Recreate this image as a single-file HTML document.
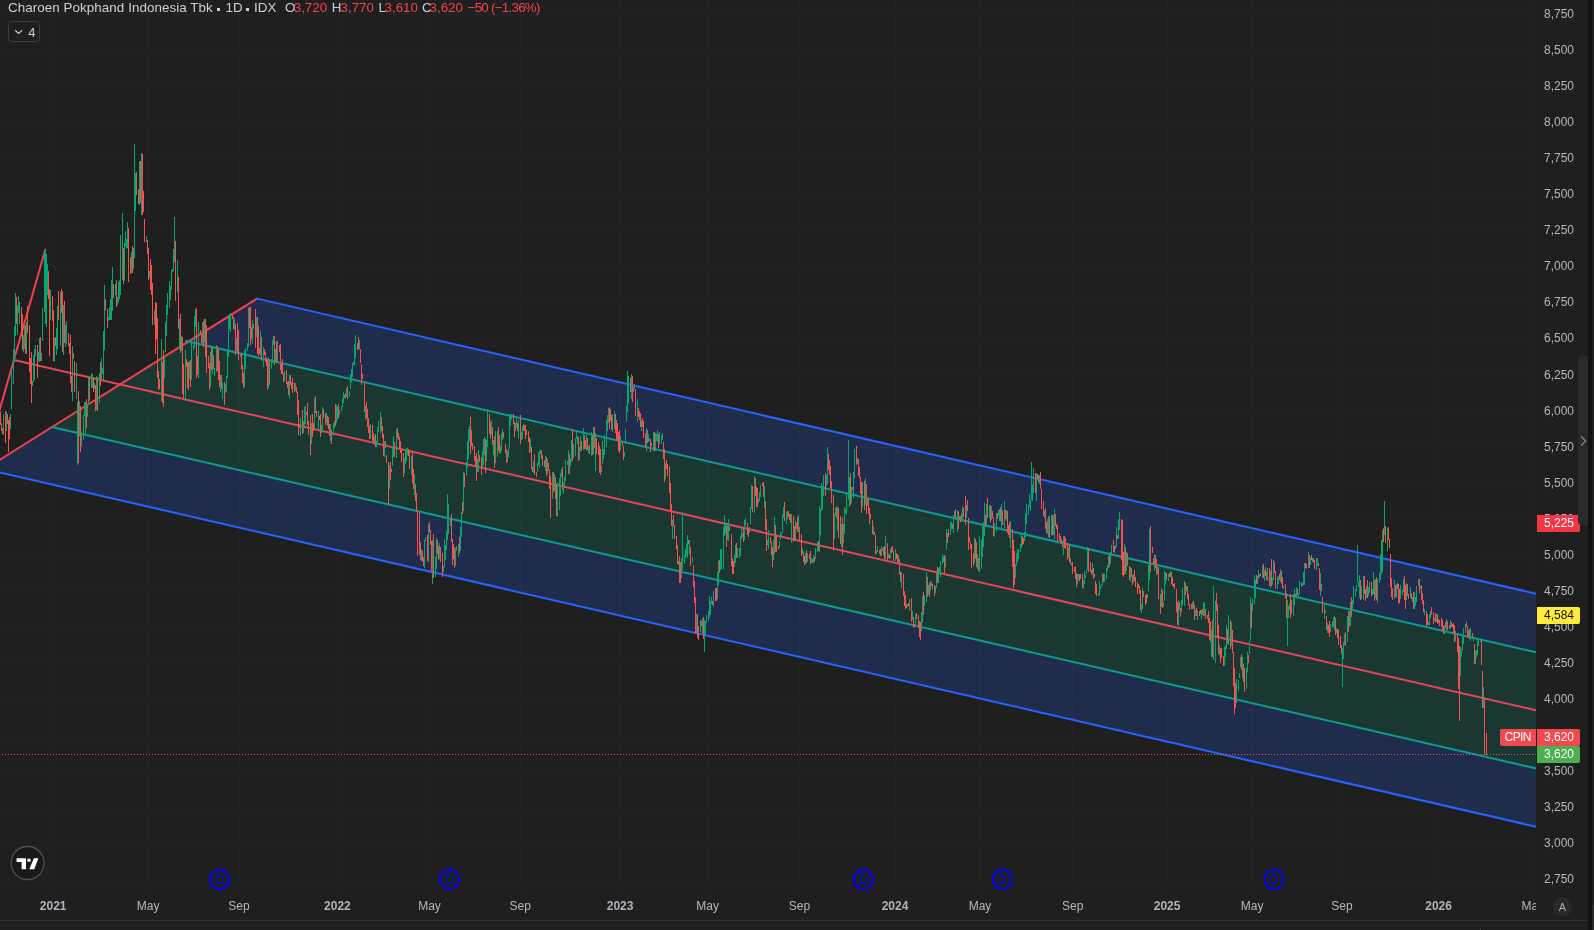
<!DOCTYPE html>
<html><head><meta charset="utf-8"><title>CPIN</title>
<style>
html,body{margin:0;padding:0;background:#1f1f1f;}
body{width:1594px;height:930px;overflow:hidden;position:relative;font-family:"Liberation Sans",sans-serif;color:#b4b7bf;}
#root{position:absolute;left:0;top:0;width:1594px;height:930px;overflow:hidden;will-change:transform;}
svg{position:absolute;left:0;top:0;}
.pl{position:absolute;left:1544px;width:40px;height:14px;line-height:14px;font-size:12px;color:#b4b7bf;white-space:nowrap;}
.tl{position:absolute;top:899px;width:60px;height:14px;line-height:14px;font-size:12px;text-align:center;color:#b4b7bf;white-space:nowrap;}
.tl.b{font-weight:bold;color:#b0b3ba;}
.tag{position:absolute;height:17px;line-height:16px;font-size:12px;color:#fff;border-radius:2px;white-space:nowrap;box-sizing:border-box;}
#legend{position:absolute;left:8px;top:0;height:15px;line-height:15px;font-size:13.4px;white-space:nowrap;color:#cdd0d6;}
#legend .r{color:#f0444e;}
#legend span{position:absolute;top:0;}
</style></head><body><div id="root">
<svg width="1594" height="930" viewBox="0 0 1594 930">
<defs><clipPath id="pane"><rect x="0" y="0" width="1536" height="892"/></clipPath></defs>
<g shape-rendering="crispEdges">
<rect x="0" y="14" width="1536" height="1" fill="#232323"/>
<rect x="0" y="50" width="1536" height="1" fill="#232323"/>
<rect x="0" y="86" width="1536" height="1" fill="#232323"/>
<rect x="0" y="122" width="1536" height="1" fill="#232323"/>
<rect x="0" y="158" width="1536" height="1" fill="#232323"/>
<rect x="0" y="194" width="1536" height="1" fill="#232323"/>
<rect x="0" y="230" width="1536" height="1" fill="#232323"/>
<rect x="0" y="266" width="1536" height="1" fill="#232323"/>
<rect x="0" y="303" width="1536" height="1" fill="#232323"/>
<rect x="0" y="339" width="1536" height="1" fill="#232323"/>
<rect x="0" y="375" width="1536" height="1" fill="#232323"/>
<rect x="0" y="411" width="1536" height="1" fill="#232323"/>
<rect x="0" y="447" width="1536" height="1" fill="#232323"/>
<rect x="0" y="483" width="1536" height="1" fill="#232323"/>
<rect x="0" y="519" width="1536" height="1" fill="#232323"/>
<rect x="0" y="555" width="1536" height="1" fill="#232323"/>
<rect x="0" y="591" width="1536" height="1" fill="#232323"/>
<rect x="0" y="627" width="1536" height="1" fill="#232323"/>
<rect x="0" y="663" width="1536" height="1" fill="#232323"/>
<rect x="0" y="700" width="1536" height="1" fill="#232323"/>
<rect x="0" y="736" width="1536" height="1" fill="#232323"/>
<rect x="0" y="772" width="1536" height="1" fill="#232323"/>
<rect x="0" y="808" width="1536" height="1" fill="#232323"/>
<rect x="0" y="844" width="1536" height="1" fill="#232323"/>
<rect x="0" y="880" width="1536" height="1" fill="#232323"/>
<rect x="54" y="0" width="1" height="892" fill="#232323"/>
<rect x="148" y="0" width="1" height="892" fill="#232323"/>
<rect x="239" y="0" width="1" height="892" fill="#232323"/>
<rect x="338" y="0" width="1" height="892" fill="#232323"/>
<rect x="429" y="0" width="1" height="892" fill="#232323"/>
<rect x="520" y="0" width="1" height="892" fill="#232323"/>
<rect x="620" y="0" width="1" height="892" fill="#232323"/>
<rect x="708" y="0" width="1" height="892" fill="#232323"/>
<rect x="799" y="0" width="1" height="892" fill="#232323"/>
<rect x="895" y="0" width="1" height="892" fill="#232323"/>
<rect x="980" y="0" width="1" height="892" fill="#232323"/>
<rect x="1072" y="0" width="1" height="892" fill="#232323"/>
<rect x="1167" y="0" width="1" height="892" fill="#232323"/>
<rect x="1252" y="0" width="1" height="892" fill="#232323"/>
<rect x="1342" y="0" width="1" height="892" fill="#232323"/>
<rect x="1438" y="0" width="1" height="892" fill="#232323"/>
<rect x="1533" y="0" width="1" height="892" fill="#232323"/>
</g>
<g clip-path="url(#pane)">

<polygon points="257.0,298.6 1536.0,593.7 1536.0,652.3 186.0,341.0" fill="#2962ff" fill-opacity="0.2"/>
<polygon points="186.0,341.0 1536.0,652.3 1536.0,768.4 51.7,427.0" fill="#089981" fill-opacity="0.2"/>
<polygon points="51.7,427.0 1536.0,768.4 1536.0,826.7 0.0,472.5 0.0,459.7" fill="#2962ff" fill-opacity="0.2"/>


<g fill="none" stroke-width="2" stroke-linecap="round">
<line x1="-17" y1="468.5" x2="45.3" y2="249.6" stroke="#ef3f50"/>
<line x1="-17" y1="470.3" x2="257" y2="298.6" stroke="#ef3f50"/>
<line x1="14" y1="360" x2="1536" y2="710.3" stroke="#e44858"/>
<line x1="186" y1="341" x2="1536" y2="652.3" stroke="#0c9d92"/>
<line x1="51.7" y1="427" x2="1536" y2="768.4" stroke="#0c9d92"/>
<line x1="257" y1="298.6" x2="1536" y2="593.7" stroke="#2962ff"/>
<line x1="-20" y1="467.9" x2="1536" y2="826.7" stroke="#2962ff"/>
</g>

<g shape-rendering="crispEdges">
<rect x="1486" y="733" width="1" height="22" fill="#f8504f"/>
<rect x="1484" y="698" width="1" height="57" fill="#f8504f"/>
<rect x="1483" y="687" width="1" height="21" fill="#06a66f"/>
<rect x="1482" y="671" width="1" height="37" fill="#f8504f"/>
<rect x="1481" y="641" width="1" height="24" fill="#f8504f"/>
<rect x="0" y="412" width="1" height="13" fill="#f8504f"/>
<rect x="1" y="423" width="1" height="8" fill="#f8504f"/>
<rect x="2" y="428" width="1" height="6" fill="#f8504f"/>
<rect x="3" y="414" width="1" height="21" fill="#06a66f"/>
<rect x="5" y="411" width="1" height="32" fill="#f8504f"/>
<rect x="6" y="412" width="1" height="19" fill="#06a66f"/>
<rect x="7" y="414" width="1" height="10" fill="#f8504f"/>
<rect x="8" y="420" width="1" height="32" fill="#f8504f"/>
<rect x="9" y="417" width="1" height="22" fill="#f8504f"/>
<rect x="10" y="414" width="1" height="15" fill="#06a66f"/>
<rect x="11" y="369" width="1" height="40" fill="#06a66f"/>
<rect x="13" y="349" width="1" height="35" fill="#06a66f"/>
<rect x="14" y="326" width="1" height="36" fill="#06a66f"/>
<rect x="15" y="293" width="1" height="43" fill="#06a66f"/>
<rect x="16" y="297" width="1" height="27" fill="#f8504f"/>
<rect x="17" y="305" width="1" height="30" fill="#06a66f"/>
<rect x="18" y="296" width="1" height="17" fill="#06a66f"/>
<rect x="19" y="302" width="1" height="22" fill="#06a66f"/>
<rect x="21" y="307" width="1" height="29" fill="#f8504f"/>
<rect x="22" y="314" width="1" height="36" fill="#f8504f"/>
<rect x="23" y="335" width="1" height="17" fill="#06a66f"/>
<rect x="24" y="324" width="1" height="25" fill="#06a66f"/>
<rect x="25" y="325" width="1" height="29" fill="#f8504f"/>
<rect x="26" y="322" width="1" height="32" fill="#06a66f"/>
<rect x="27" y="306" width="1" height="27" fill="#f8504f"/>
<rect x="29" y="325" width="1" height="47" fill="#f8504f"/>
<rect x="30" y="358" width="1" height="26" fill="#f8504f"/>
<rect x="31" y="352" width="1" height="51" fill="#f8504f"/>
<rect x="32" y="381" width="1" height="5" fill="#06a66f"/>
<rect x="33" y="355" width="1" height="27" fill="#06a66f"/>
<rect x="34" y="349" width="1" height="31" fill="#06a66f"/>
<rect x="35" y="345" width="1" height="11" fill="#06a66f"/>
<rect x="37" y="345" width="1" height="33" fill="#f8504f"/>
<rect x="38" y="352" width="1" height="9" fill="#06a66f"/>
<rect x="39" y="338" width="1" height="24" fill="#06a66f"/>
<rect x="40" y="337" width="1" height="24" fill="#f8504f"/>
<rect x="41" y="353" width="1" height="8" fill="#06a66f"/>
<rect x="42" y="308" width="1" height="33" fill="#06a66f"/>
<rect x="44" y="250" width="1" height="62" fill="#06a66f"/>
<rect x="45" y="250" width="1" height="74" fill="#06a66f"/>
<rect x="46" y="254" width="1" height="73" fill="#06a66f"/>
<rect x="47" y="264" width="1" height="31" fill="#06a66f"/>
<rect x="48" y="271" width="1" height="28" fill="#f8504f"/>
<rect x="49" y="289" width="1" height="67" fill="#f8504f"/>
<rect x="50" y="290" width="1" height="30" fill="#06a66f"/>
<rect x="52" y="296" width="1" height="25" fill="#f8504f"/>
<rect x="53" y="310" width="1" height="51" fill="#f8504f"/>
<rect x="54" y="338" width="1" height="24" fill="#06a66f"/>
<rect x="55" y="337" width="1" height="9" fill="#f8504f"/>
<rect x="56" y="328" width="1" height="27" fill="#06a66f"/>
<rect x="57" y="306" width="1" height="43" fill="#06a66f"/>
<rect x="58" y="291" width="1" height="29" fill="#f8504f"/>
<rect x="60" y="292" width="1" height="54" fill="#06a66f"/>
<rect x="61" y="289" width="1" height="24" fill="#f8504f"/>
<rect x="62" y="291" width="1" height="61" fill="#f8504f"/>
<rect x="63" y="305" width="1" height="50" fill="#06a66f"/>
<rect x="64" y="301" width="1" height="42" fill="#f8504f"/>
<rect x="65" y="325" width="1" height="22" fill="#06a66f"/>
<rect x="66" y="321" width="1" height="23" fill="#06a66f"/>
<rect x="68" y="333" width="1" height="13" fill="#f8504f"/>
<rect x="69" y="343" width="1" height="11" fill="#f8504f"/>
<rect x="70" y="335" width="1" height="48" fill="#f8504f"/>
<rect x="71" y="376" width="1" height="16" fill="#f8504f"/>
<rect x="72" y="346" width="1" height="55" fill="#06a66f"/>
<rect x="73" y="353" width="1" height="6" fill="#f8504f"/>
<rect x="74" y="361" width="1" height="31" fill="#f8504f"/>
<rect x="76" y="363" width="1" height="36" fill="#06a66f"/>
<rect x="77" y="402" width="1" height="63" fill="#06a66f"/>
<rect x="78" y="391" width="1" height="72" fill="#f8504f"/>
<rect x="79" y="401" width="1" height="35" fill="#06a66f"/>
<rect x="80" y="406" width="1" height="46" fill="#f8504f"/>
<rect x="81" y="432" width="1" height="14" fill="#06a66f"/>
<rect x="83" y="415" width="1" height="25" fill="#06a66f"/>
<rect x="84" y="402" width="1" height="14" fill="#06a66f"/>
<rect x="85" y="402" width="1" height="32" fill="#06a66f"/>
<rect x="86" y="399" width="1" height="29" fill="#f8504f"/>
<rect x="87" y="404" width="1" height="13" fill="#06a66f"/>
<rect x="88" y="376" width="1" height="29" fill="#06a66f"/>
<rect x="89" y="377" width="1" height="24" fill="#f8504f"/>
<rect x="91" y="373" width="1" height="15" fill="#06a66f"/>
<rect x="92" y="374" width="1" height="14" fill="#06a66f"/>
<rect x="93" y="379" width="1" height="13" fill="#f8504f"/>
<rect x="94" y="383" width="1" height="6" fill="#06a66f"/>
<rect x="95" y="385" width="1" height="26" fill="#f8504f"/>
<rect x="96" y="376" width="1" height="34" fill="#06a66f"/>
<rect x="97" y="377" width="1" height="34" fill="#f8504f"/>
<rect x="99" y="373" width="1" height="30" fill="#06a66f"/>
<rect x="100" y="362" width="1" height="24" fill="#f8504f"/>
<rect x="101" y="358" width="1" height="21" fill="#06a66f"/>
<rect x="102" y="368" width="1" height="6" fill="#06a66f"/>
<rect x="103" y="331" width="1" height="49" fill="#06a66f"/>
<rect x="104" y="285" width="1" height="65" fill="#06a66f"/>
<rect x="105" y="299" width="1" height="11" fill="#f8504f"/>
<rect x="107" y="309" width="1" height="19" fill="#f8504f"/>
<rect x="108" y="317" width="1" height="4" fill="#06a66f"/>
<rect x="109" y="307" width="1" height="13" fill="#06a66f"/>
<rect x="110" y="299" width="1" height="21" fill="#06a66f"/>
<rect x="111" y="280" width="1" height="40" fill="#06a66f"/>
<rect x="112" y="267" width="1" height="44" fill="#06a66f"/>
<rect x="113" y="284" width="1" height="14" fill="#f8504f"/>
<rect x="115" y="284" width="1" height="11" fill="#06a66f"/>
<rect x="116" y="280" width="1" height="27" fill="#f8504f"/>
<rect x="117" y="297" width="1" height="8" fill="#06a66f"/>
<rect x="118" y="282" width="1" height="20" fill="#06a66f"/>
<rect x="119" y="280" width="1" height="19" fill="#06a66f"/>
<rect x="120" y="235" width="1" height="60" fill="#06a66f"/>
<rect x="122" y="213" width="1" height="67" fill="#06a66f"/>
<rect x="123" y="248" width="1" height="36" fill="#f8504f"/>
<rect x="124" y="243" width="1" height="38" fill="#06a66f"/>
<rect x="125" y="231" width="1" height="15" fill="#06a66f"/>
<rect x="126" y="239" width="1" height="10" fill="#06a66f"/>
<rect x="127" y="222" width="1" height="26" fill="#06a66f"/>
<rect x="128" y="228" width="1" height="54" fill="#f8504f"/>
<rect x="130" y="257" width="1" height="17" fill="#f8504f"/>
<rect x="131" y="252" width="1" height="21" fill="#06a66f"/>
<rect x="132" y="246" width="1" height="27" fill="#f8504f"/>
<rect x="133" y="248" width="1" height="21" fill="#06a66f"/>
<rect x="134" y="144" width="1" height="114" fill="#06a66f"/>
<rect x="135" y="173" width="1" height="38" fill="#06a66f"/>
<rect x="136" y="172" width="1" height="23" fill="#f8504f"/>
<rect x="138" y="189" width="1" height="15" fill="#f8504f"/>
<rect x="139" y="161" width="1" height="44" fill="#06a66f"/>
<rect x="140" y="161" width="1" height="42" fill="#f8504f"/>
<rect x="141" y="153" width="1" height="62" fill="#06a66f"/>
<rect x="142" y="154" width="1" height="61" fill="#f8504f"/>
<rect x="143" y="191" width="1" height="21" fill="#f8504f"/>
<rect x="144" y="219" width="1" height="23" fill="#f8504f"/>
<rect x="146" y="236" width="1" height="6" fill="#06a66f"/>
<rect x="147" y="240" width="1" height="14" fill="#f8504f"/>
<rect x="148" y="248" width="1" height="32" fill="#f8504f"/>
<rect x="149" y="271" width="1" height="7" fill="#06a66f"/>
<rect x="150" y="259" width="1" height="31" fill="#f8504f"/>
<rect x="151" y="265" width="1" height="30" fill="#f8504f"/>
<rect x="152" y="283" width="1" height="42" fill="#f8504f"/>
<rect x="154" y="310" width="1" height="15" fill="#06a66f"/>
<rect x="155" y="302" width="1" height="52" fill="#f8504f"/>
<rect x="156" y="303" width="1" height="36" fill="#f8504f"/>
<rect x="157" y="318" width="1" height="60" fill="#f8504f"/>
<rect x="158" y="371" width="1" height="19" fill="#f8504f"/>
<rect x="159" y="379" width="1" height="10" fill="#f8504f"/>
<rect x="161" y="339" width="1" height="62" fill="#06a66f"/>
<rect x="162" y="362" width="1" height="41" fill="#f8504f"/>
<rect x="163" y="350" width="1" height="57" fill="#f8504f"/>
<rect x="164" y="357" width="1" height="21" fill="#06a66f"/>
<rect x="165" y="322" width="1" height="30" fill="#06a66f"/>
<rect x="166" y="305" width="1" height="31" fill="#06a66f"/>
<rect x="167" y="293" width="1" height="22" fill="#06a66f"/>
<rect x="169" y="281" width="1" height="27" fill="#06a66f"/>
<rect x="170" y="286" width="1" height="14" fill="#06a66f"/>
<rect x="171" y="270" width="1" height="20" fill="#06a66f"/>
<rect x="172" y="269" width="1" height="3" fill="#06a66f"/>
<rect x="173" y="249" width="1" height="22" fill="#06a66f"/>
<rect x="174" y="217" width="1" height="45" fill="#06a66f"/>
<rect x="175" y="241" width="1" height="60" fill="#f8504f"/>
<rect x="177" y="260" width="1" height="32" fill="#06a66f"/>
<rect x="178" y="277" width="1" height="52" fill="#f8504f"/>
<rect x="179" y="319" width="1" height="30" fill="#06a66f"/>
<rect x="180" y="314" width="1" height="39" fill="#f8504f"/>
<rect x="181" y="336" width="1" height="15" fill="#06a66f"/>
<rect x="182" y="337" width="1" height="57" fill="#f8504f"/>
<rect x="183" y="364" width="1" height="34" fill="#f8504f"/>
<rect x="185" y="350" width="1" height="51" fill="#06a66f"/>
<rect x="186" y="359" width="1" height="8" fill="#f8504f"/>
<rect x="187" y="362" width="1" height="26" fill="#f8504f"/>
<rect x="188" y="362" width="1" height="28" fill="#f8504f"/>
<rect x="189" y="361" width="1" height="18" fill="#06a66f"/>
<rect x="190" y="360" width="1" height="27" fill="#f8504f"/>
<rect x="191" y="339" width="1" height="41" fill="#06a66f"/>
<rect x="193" y="345" width="1" height="5" fill="#06a66f"/>
<rect x="194" y="316" width="1" height="32" fill="#06a66f"/>
<rect x="195" y="309" width="1" height="18" fill="#06a66f"/>
<rect x="196" y="308" width="1" height="70" fill="#f8504f"/>
<rect x="197" y="356" width="1" height="19" fill="#f8504f"/>
<rect x="198" y="322" width="1" height="56" fill="#06a66f"/>
<rect x="200" y="330" width="1" height="5" fill="#f8504f"/>
<rect x="201" y="334" width="1" height="9" fill="#f8504f"/>
<rect x="202" y="322" width="1" height="22" fill="#06a66f"/>
<rect x="203" y="321" width="1" height="26" fill="#f8504f"/>
<rect x="204" y="319" width="1" height="24" fill="#06a66f"/>
<rect x="205" y="319" width="1" height="38" fill="#f8504f"/>
<rect x="206" y="325" width="1" height="48" fill="#f8504f"/>
<rect x="208" y="356" width="1" height="12" fill="#f8504f"/>
<rect x="209" y="363" width="1" height="27" fill="#f8504f"/>
<rect x="210" y="352" width="1" height="35" fill="#06a66f"/>
<rect x="211" y="346" width="1" height="24" fill="#f8504f"/>
<rect x="212" y="346" width="1" height="28" fill="#06a66f"/>
<rect x="213" y="355" width="1" height="14" fill="#f8504f"/>
<rect x="214" y="368" width="1" height="8" fill="#06a66f"/>
<rect x="216" y="345" width="1" height="27" fill="#06a66f"/>
<rect x="217" y="346" width="1" height="25" fill="#f8504f"/>
<rect x="218" y="349" width="1" height="31" fill="#f8504f"/>
<rect x="219" y="361" width="1" height="26" fill="#f8504f"/>
<rect x="220" y="375" width="1" height="17" fill="#06a66f"/>
<rect x="221" y="375" width="1" height="14" fill="#f8504f"/>
<rect x="222" y="383" width="1" height="16" fill="#06a66f"/>
<rect x="224" y="382" width="1" height="23" fill="#f8504f"/>
<rect x="225" y="384" width="1" height="9" fill="#06a66f"/>
<rect x="226" y="376" width="1" height="16" fill="#06a66f"/>
<rect x="227" y="350" width="1" height="28" fill="#06a66f"/>
<rect x="228" y="315" width="1" height="42" fill="#06a66f"/>
<rect x="229" y="314" width="1" height="15" fill="#06a66f"/>
<rect x="230" y="313" width="1" height="19" fill="#06a66f"/>
<rect x="232" y="315" width="1" height="4" fill="#f8504f"/>
<rect x="233" y="317" width="1" height="12" fill="#f8504f"/>
<rect x="234" y="319" width="1" height="11" fill="#06a66f"/>
<rect x="235" y="324" width="1" height="31" fill="#f8504f"/>
<rect x="236" y="338" width="1" height="13" fill="#06a66f"/>
<rect x="237" y="323" width="1" height="30" fill="#f8504f"/>
<rect x="238" y="330" width="1" height="30" fill="#f8504f"/>
<rect x="240" y="353" width="1" height="4" fill="#06a66f"/>
<rect x="241" y="353" width="1" height="16" fill="#f8504f"/>
<rect x="242" y="365" width="1" height="18" fill="#f8504f"/>
<rect x="243" y="373" width="1" height="15" fill="#f8504f"/>
<rect x="244" y="350" width="1" height="37" fill="#06a66f"/>
<rect x="245" y="348" width="1" height="21" fill="#06a66f"/>
<rect x="247" y="343" width="1" height="8" fill="#06a66f"/>
<rect x="248" y="308" width="1" height="39" fill="#06a66f"/>
<rect x="249" y="307" width="1" height="21" fill="#f8504f"/>
<rect x="250" y="307" width="1" height="38" fill="#f8504f"/>
<rect x="251" y="327" width="1" height="12" fill="#f8504f"/>
<rect x="252" y="320" width="1" height="24" fill="#06a66f"/>
<rect x="253" y="324" width="1" height="5" fill="#06a66f"/>
<rect x="255" y="309" width="1" height="39" fill="#f8504f"/>
<rect x="256" y="317" width="1" height="20" fill="#06a66f"/>
<rect x="257" y="317" width="1" height="37" fill="#f8504f"/>
<rect x="258" y="326" width="1" height="30" fill="#f8504f"/>
<rect x="259" y="348" width="1" height="6" fill="#f8504f"/>
<rect x="260" y="331" width="1" height="25" fill="#06a66f"/>
<rect x="261" y="337" width="1" height="24" fill="#f8504f"/>
<rect x="263" y="347" width="1" height="20" fill="#06a66f"/>
<rect x="264" y="349" width="1" height="6" fill="#f8504f"/>
<rect x="265" y="352" width="1" height="10" fill="#f8504f"/>
<rect x="266" y="358" width="1" height="8" fill="#f8504f"/>
<rect x="267" y="360" width="1" height="30" fill="#f8504f"/>
<rect x="268" y="357" width="1" height="31" fill="#06a66f"/>
<rect x="269" y="359" width="1" height="26" fill="#f8504f"/>
<rect x="271" y="359" width="1" height="10" fill="#06a66f"/>
<rect x="272" y="340" width="1" height="23" fill="#06a66f"/>
<rect x="273" y="336" width="1" height="9" fill="#06a66f"/>
<rect x="274" y="336" width="1" height="29" fill="#f8504f"/>
<rect x="275" y="349" width="1" height="13" fill="#06a66f"/>
<rect x="276" y="341" width="1" height="21" fill="#f8504f"/>
<rect x="277" y="341" width="1" height="22" fill="#06a66f"/>
<rect x="279" y="345" width="1" height="7" fill="#f8504f"/>
<rect x="280" y="344" width="1" height="26" fill="#f8504f"/>
<rect x="281" y="364" width="1" height="10" fill="#f8504f"/>
<rect x="282" y="359" width="1" height="15" fill="#f8504f"/>
<rect x="283" y="373" width="1" height="9" fill="#f8504f"/>
<rect x="284" y="371" width="1" height="10" fill="#06a66f"/>
<rect x="286" y="370" width="1" height="14" fill="#f8504f"/>
<rect x="287" y="382" width="1" height="6" fill="#f8504f"/>
<rect x="288" y="381" width="1" height="14" fill="#f8504f"/>
<rect x="289" y="375" width="1" height="24" fill="#06a66f"/>
<rect x="290" y="375" width="1" height="10" fill="#f8504f"/>
<rect x="291" y="382" width="1" height="7" fill="#f8504f"/>
<rect x="292" y="378" width="1" height="15" fill="#f8504f"/>
<rect x="294" y="383" width="1" height="9" fill="#f8504f"/>
<rect x="295" y="383" width="1" height="8" fill="#06a66f"/>
<rect x="296" y="387" width="1" height="6" fill="#f8504f"/>
<rect x="297" y="392" width="1" height="23" fill="#f8504f"/>
<rect x="298" y="400" width="1" height="35" fill="#f8504f"/>
<rect x="299" y="424" width="1" height="4" fill="#f8504f"/>
<rect x="300" y="418" width="1" height="18" fill="#06a66f"/>
<rect x="302" y="410" width="1" height="24" fill="#f8504f"/>
<rect x="303" y="421" width="1" height="12" fill="#06a66f"/>
<rect x="304" y="407" width="1" height="20" fill="#06a66f"/>
<rect x="305" y="406" width="1" height="18" fill="#06a66f"/>
<rect x="306" y="412" width="1" height="3" fill="#f8504f"/>
<rect x="307" y="403" width="1" height="22" fill="#f8504f"/>
<rect x="308" y="421" width="1" height="14" fill="#f8504f"/>
<rect x="310" y="415" width="1" height="40" fill="#f8504f"/>
<rect x="311" y="423" width="1" height="21" fill="#06a66f"/>
<rect x="312" y="414" width="1" height="23" fill="#f8504f"/>
<rect x="313" y="423" width="1" height="8" fill="#f8504f"/>
<rect x="314" y="398" width="1" height="31" fill="#06a66f"/>
<rect x="315" y="396" width="1" height="17" fill="#f8504f"/>
<rect x="316" y="411" width="1" height="6" fill="#f8504f"/>
<rect x="318" y="411" width="1" height="18" fill="#06a66f"/>
<rect x="319" y="416" width="1" height="4" fill="#f8504f"/>
<rect x="320" y="414" width="1" height="23" fill="#f8504f"/>
<rect x="321" y="425" width="1" height="8" fill="#06a66f"/>
<rect x="322" y="407" width="1" height="25" fill="#06a66f"/>
<rect x="323" y="409" width="1" height="9" fill="#f8504f"/>
<rect x="325" y="413" width="1" height="12" fill="#f8504f"/>
<rect x="326" y="413" width="1" height="10" fill="#06a66f"/>
<rect x="327" y="416" width="1" height="10" fill="#f8504f"/>
<rect x="328" y="417" width="1" height="12" fill="#f8504f"/>
<rect x="329" y="424" width="1" height="12" fill="#f8504f"/>
<rect x="330" y="424" width="1" height="17" fill="#06a66f"/>
<rect x="331" y="430" width="1" height="14" fill="#f8504f"/>
<rect x="333" y="423" width="1" height="13" fill="#06a66f"/>
<rect x="334" y="421" width="1" height="7" fill="#06a66f"/>
<rect x="335" y="404" width="1" height="22" fill="#f8504f"/>
<rect x="336" y="405" width="1" height="18" fill="#06a66f"/>
<rect x="337" y="407" width="1" height="13" fill="#06a66f"/>
<rect x="338" y="404" width="1" height="14" fill="#f8504f"/>
<rect x="339" y="410" width="1" height="5" fill="#06a66f"/>
<rect x="341" y="406" width="1" height="5" fill="#06a66f"/>
<rect x="342" y="398" width="1" height="9" fill="#06a66f"/>
<rect x="343" y="392" width="1" height="11" fill="#06a66f"/>
<rect x="344" y="395" width="1" height="3" fill="#f8504f"/>
<rect x="345" y="393" width="1" height="6" fill="#06a66f"/>
<rect x="346" y="388" width="1" height="9" fill="#06a66f"/>
<rect x="347" y="386" width="1" height="13" fill="#f8504f"/>
<rect x="349" y="391" width="1" height="6" fill="#06a66f"/>
<rect x="350" y="374" width="1" height="15" fill="#06a66f"/>
<rect x="351" y="369" width="1" height="13" fill="#06a66f"/>
<rect x="352" y="363" width="1" height="14" fill="#06a66f"/>
<rect x="353" y="362" width="1" height="3" fill="#06a66f"/>
<rect x="354" y="344" width="1" height="21" fill="#06a66f"/>
<rect x="355" y="335" width="1" height="23" fill="#06a66f"/>
<rect x="357" y="343" width="1" height="7" fill="#f8504f"/>
<rect x="358" y="337" width="1" height="12" fill="#f8504f"/>
<rect x="359" y="340" width="1" height="10" fill="#06a66f"/>
<rect x="360" y="349" width="1" height="14" fill="#f8504f"/>
<rect x="361" y="364" width="1" height="21" fill="#f8504f"/>
<rect x="362" y="374" width="1" height="5" fill="#f8504f"/>
<rect x="364" y="382" width="1" height="30" fill="#f8504f"/>
<rect x="365" y="406" width="1" height="14" fill="#06a66f"/>
<rect x="366" y="402" width="1" height="16" fill="#f8504f"/>
<rect x="367" y="409" width="1" height="18" fill="#f8504f"/>
<rect x="368" y="418" width="1" height="15" fill="#f8504f"/>
<rect x="369" y="426" width="1" height="13" fill="#f8504f"/>
<rect x="370" y="424" width="1" height="15" fill="#06a66f"/>
<rect x="372" y="425" width="1" height="16" fill="#f8504f"/>
<rect x="373" y="433" width="1" height="11" fill="#f8504f"/>
<rect x="374" y="436" width="1" height="9" fill="#06a66f"/>
<rect x="375" y="434" width="1" height="13" fill="#f8504f"/>
<rect x="376" y="441" width="1" height="6" fill="#06a66f"/>
<rect x="377" y="427" width="1" height="18" fill="#06a66f"/>
<rect x="378" y="421" width="1" height="11" fill="#06a66f"/>
<rect x="380" y="412" width="1" height="21" fill="#06a66f"/>
<rect x="381" y="417" width="1" height="14" fill="#f8504f"/>
<rect x="382" y="426" width="1" height="12" fill="#f8504f"/>
<rect x="383" y="434" width="1" height="22" fill="#f8504f"/>
<rect x="384" y="441" width="1" height="16" fill="#06a66f"/>
<rect x="385" y="441" width="1" height="7" fill="#f8504f"/>
<rect x="386" y="455" width="1" height="8" fill="#f8504f"/>
<rect x="388" y="462" width="1" height="42" fill="#f8504f"/>
<rect x="389" y="465" width="1" height="24" fill="#06a66f"/>
<rect x="390" y="462" width="1" height="18" fill="#f8504f"/>
<rect x="391" y="469" width="1" height="3" fill="#f8504f"/>
<rect x="392" y="447" width="1" height="19" fill="#06a66f"/>
<rect x="393" y="436" width="1" height="21" fill="#06a66f"/>
<rect x="394" y="442" width="1" height="15" fill="#f8504f"/>
<rect x="396" y="429" width="1" height="29" fill="#06a66f"/>
<rect x="397" y="428" width="1" height="10" fill="#f8504f"/>
<rect x="398" y="433" width="1" height="7" fill="#f8504f"/>
<rect x="399" y="437" width="1" height="11" fill="#f8504f"/>
<rect x="400" y="441" width="1" height="12" fill="#f8504f"/>
<rect x="401" y="449" width="1" height="13" fill="#f8504f"/>
<rect x="403" y="453" width="1" height="24" fill="#f8504f"/>
<rect x="404" y="458" width="1" height="15" fill="#06a66f"/>
<rect x="405" y="449" width="1" height="15" fill="#06a66f"/>
<rect x="406" y="448" width="1" height="13" fill="#06a66f"/>
<rect x="407" y="448" width="1" height="7" fill="#06a66f"/>
<rect x="408" y="449" width="1" height="7" fill="#f8504f"/>
<rect x="409" y="451" width="1" height="18" fill="#f8504f"/>
<rect x="411" y="456" width="1" height="19" fill="#06a66f"/>
<rect x="412" y="451" width="1" height="32" fill="#f8504f"/>
<rect x="413" y="469" width="1" height="20" fill="#f8504f"/>
<rect x="414" y="474" width="1" height="21" fill="#06a66f"/>
<rect x="415" y="484" width="1" height="17" fill="#f8504f"/>
<rect x="416" y="493" width="1" height="18" fill="#f8504f"/>
<rect x="417" y="510" width="1" height="46" fill="#f8504f"/>
<rect x="419" y="513" width="1" height="42" fill="#f8504f"/>
<rect x="420" y="542" width="1" height="18" fill="#f8504f"/>
<rect x="421" y="549" width="1" height="13" fill="#06a66f"/>
<rect x="422" y="551" width="1" height="10" fill="#f8504f"/>
<rect x="423" y="557" width="1" height="9" fill="#f8504f"/>
<rect x="424" y="540" width="1" height="28" fill="#06a66f"/>
<rect x="425" y="537" width="1" height="4" fill="#06a66f"/>
<rect x="427" y="535" width="1" height="26" fill="#f8504f"/>
<rect x="428" y="524" width="1" height="38" fill="#06a66f"/>
<rect x="429" y="522" width="1" height="10" fill="#f8504f"/>
<rect x="430" y="530" width="1" height="15" fill="#f8504f"/>
<rect x="431" y="541" width="1" height="30" fill="#f8504f"/>
<rect x="432" y="540" width="1" height="44" fill="#06a66f"/>
<rect x="433" y="534" width="1" height="44" fill="#f8504f"/>
<rect x="435" y="557" width="1" height="20" fill="#06a66f"/>
<rect x="436" y="538" width="1" height="31" fill="#06a66f"/>
<rect x="437" y="540" width="1" height="14" fill="#f8504f"/>
<rect x="438" y="546" width="1" height="14" fill="#f8504f"/>
<rect x="439" y="543" width="1" height="16" fill="#06a66f"/>
<rect x="440" y="547" width="1" height="15" fill="#f8504f"/>
<rect x="442" y="553" width="1" height="24" fill="#f8504f"/>
<rect x="443" y="566" width="1" height="6" fill="#06a66f"/>
<rect x="444" y="539" width="1" height="28" fill="#06a66f"/>
<rect x="445" y="545" width="1" height="15" fill="#06a66f"/>
<rect x="446" y="531" width="1" height="19" fill="#06a66f"/>
<rect x="447" y="494" width="1" height="46" fill="#06a66f"/>
<rect x="448" y="504" width="1" height="30" fill="#06a66f"/>
<rect x="450" y="519" width="1" height="7" fill="#06a66f"/>
<rect x="451" y="514" width="1" height="28" fill="#f8504f"/>
<rect x="452" y="539" width="1" height="26" fill="#f8504f"/>
<rect x="453" y="544" width="1" height="15" fill="#f8504f"/>
<rect x="454" y="547" width="1" height="21" fill="#f8504f"/>
<rect x="455" y="548" width="1" height="18" fill="#06a66f"/>
<rect x="456" y="546" width="1" height="5" fill="#06a66f"/>
<rect x="458" y="544" width="1" height="13" fill="#06a66f"/>
<rect x="459" y="537" width="1" height="16" fill="#f8504f"/>
<rect x="460" y="527" width="1" height="24" fill="#06a66f"/>
<rect x="461" y="512" width="1" height="25" fill="#06a66f"/>
<rect x="462" y="502" width="1" height="12" fill="#f8504f"/>
<rect x="463" y="472" width="1" height="39" fill="#06a66f"/>
<rect x="464" y="473" width="1" height="14" fill="#f8504f"/>
<rect x="466" y="462" width="1" height="14" fill="#06a66f"/>
<rect x="467" y="441" width="1" height="27" fill="#06a66f"/>
<rect x="468" y="429" width="1" height="30" fill="#06a66f"/>
<rect x="469" y="426" width="1" height="15" fill="#06a66f"/>
<rect x="470" y="417" width="1" height="37" fill="#f8504f"/>
<rect x="471" y="430" width="1" height="16" fill="#f8504f"/>
<rect x="472" y="443" width="1" height="7" fill="#f8504f"/>
<rect x="474" y="446" width="1" height="15" fill="#f8504f"/>
<rect x="475" y="456" width="1" height="10" fill="#f8504f"/>
<rect x="476" y="453" width="1" height="28" fill="#f8504f"/>
<rect x="477" y="459" width="1" height="13" fill="#06a66f"/>
<rect x="478" y="450" width="1" height="22" fill="#06a66f"/>
<rect x="479" y="455" width="1" height="7" fill="#f8504f"/>
<rect x="481" y="457" width="1" height="18" fill="#f8504f"/>
<rect x="482" y="451" width="1" height="18" fill="#06a66f"/>
<rect x="483" y="439" width="1" height="26" fill="#06a66f"/>
<rect x="484" y="437" width="1" height="18" fill="#06a66f"/>
<rect x="485" y="439" width="1" height="34" fill="#f8504f"/>
<rect x="486" y="440" width="1" height="21" fill="#06a66f"/>
<rect x="487" y="409" width="1" height="38" fill="#06a66f"/>
<rect x="489" y="414" width="1" height="20" fill="#f8504f"/>
<rect x="490" y="422" width="1" height="17" fill="#f8504f"/>
<rect x="491" y="420" width="1" height="15" fill="#06a66f"/>
<rect x="492" y="427" width="1" height="18" fill="#f8504f"/>
<rect x="493" y="440" width="1" height="15" fill="#06a66f"/>
<rect x="494" y="436" width="1" height="32" fill="#f8504f"/>
<rect x="495" y="431" width="1" height="32" fill="#06a66f"/>
<rect x="497" y="431" width="1" height="26" fill="#06a66f"/>
<rect x="498" y="427" width="1" height="24" fill="#f8504f"/>
<rect x="499" y="435" width="1" height="18" fill="#f8504f"/>
<rect x="500" y="446" width="1" height="8" fill="#06a66f"/>
<rect x="501" y="433" width="1" height="18" fill="#06a66f"/>
<rect x="502" y="429" width="1" height="11" fill="#06a66f"/>
<rect x="503" y="432" width="1" height="6" fill="#f8504f"/>
<rect x="505" y="444" width="1" height="9" fill="#f8504f"/>
<rect x="506" y="449" width="1" height="14" fill="#f8504f"/>
<rect x="507" y="451" width="1" height="11" fill="#06a66f"/>
<rect x="508" y="448" width="1" height="9" fill="#06a66f"/>
<rect x="509" y="414" width="1" height="34" fill="#06a66f"/>
<rect x="510" y="417" width="1" height="9" fill="#06a66f"/>
<rect x="511" y="414" width="1" height="5" fill="#06a66f"/>
<rect x="513" y="414" width="1" height="10" fill="#f8504f"/>
<rect x="514" y="422" width="1" height="15" fill="#f8504f"/>
<rect x="515" y="423" width="1" height="8" fill="#06a66f"/>
<rect x="516" y="417" width="1" height="11" fill="#06a66f"/>
<rect x="517" y="423" width="1" height="8" fill="#f8504f"/>
<rect x="518" y="420" width="1" height="19" fill="#06a66f"/>
<rect x="520" y="415" width="1" height="29" fill="#f8504f"/>
<rect x="521" y="432" width="1" height="8" fill="#06a66f"/>
<rect x="522" y="426" width="1" height="13" fill="#06a66f"/>
<rect x="523" y="424" width="1" height="7" fill="#06a66f"/>
<rect x="524" y="425" width="1" height="6" fill="#f8504f"/>
<rect x="525" y="425" width="1" height="14" fill="#f8504f"/>
<rect x="526" y="430" width="1" height="5" fill="#f8504f"/>
<rect x="528" y="431" width="1" height="11" fill="#f8504f"/>
<rect x="529" y="437" width="1" height="16" fill="#f8504f"/>
<rect x="530" y="439" width="1" height="13" fill="#06a66f"/>
<rect x="531" y="447" width="1" height="22" fill="#f8504f"/>
<rect x="532" y="467" width="1" height="5" fill="#f8504f"/>
<rect x="533" y="461" width="1" height="12" fill="#06a66f"/>
<rect x="534" y="454" width="1" height="21" fill="#f8504f"/>
<rect x="536" y="472" width="1" height="5" fill="#f8504f"/>
<rect x="537" y="463" width="1" height="9" fill="#06a66f"/>
<rect x="538" y="452" width="1" height="13" fill="#06a66f"/>
<rect x="539" y="451" width="1" height="17" fill="#06a66f"/>
<rect x="540" y="450" width="1" height="4" fill="#06a66f"/>
<rect x="541" y="450" width="1" height="9" fill="#f8504f"/>
<rect x="542" y="455" width="1" height="11" fill="#f8504f"/>
<rect x="544" y="460" width="1" height="7" fill="#f8504f"/>
<rect x="545" y="456" width="1" height="15" fill="#06a66f"/>
<rect x="546" y="457" width="1" height="19" fill="#f8504f"/>
<rect x="547" y="459" width="1" height="15" fill="#06a66f"/>
<rect x="548" y="463" width="1" height="8" fill="#f8504f"/>
<rect x="549" y="470" width="1" height="19" fill="#f8504f"/>
<rect x="550" y="476" width="1" height="42" fill="#f8504f"/>
<rect x="552" y="472" width="1" height="27" fill="#06a66f"/>
<rect x="553" y="472" width="1" height="20" fill="#f8504f"/>
<rect x="554" y="474" width="1" height="17" fill="#06a66f"/>
<rect x="555" y="477" width="1" height="22" fill="#f8504f"/>
<rect x="556" y="484" width="1" height="32" fill="#f8504f"/>
<rect x="557" y="482" width="1" height="35" fill="#06a66f"/>
<rect x="559" y="478" width="1" height="32" fill="#06a66f"/>
<rect x="560" y="473" width="1" height="23" fill="#06a66f"/>
<rect x="561" y="469" width="1" height="8" fill="#06a66f"/>
<rect x="562" y="467" width="1" height="23" fill="#f8504f"/>
<rect x="563" y="482" width="1" height="12" fill="#06a66f"/>
<rect x="564" y="477" width="1" height="11" fill="#06a66f"/>
<rect x="565" y="460" width="1" height="21" fill="#06a66f"/>
<rect x="567" y="461" width="1" height="4" fill="#06a66f"/>
<rect x="568" y="450" width="1" height="24" fill="#06a66f"/>
<rect x="569" y="454" width="1" height="20" fill="#f8504f"/>
<rect x="570" y="459" width="1" height="7" fill="#06a66f"/>
<rect x="571" y="440" width="1" height="22" fill="#06a66f"/>
<rect x="572" y="429" width="1" height="32" fill="#f8504f"/>
<rect x="573" y="444" width="1" height="14" fill="#06a66f"/>
<rect x="575" y="438" width="1" height="18" fill="#06a66f"/>
<rect x="576" y="432" width="1" height="7" fill="#06a66f"/>
<rect x="577" y="436" width="1" height="8" fill="#06a66f"/>
<rect x="578" y="437" width="1" height="24" fill="#f8504f"/>
<rect x="579" y="447" width="1" height="13" fill="#06a66f"/>
<rect x="580" y="436" width="1" height="15" fill="#06a66f"/>
<rect x="581" y="441" width="1" height="10" fill="#f8504f"/>
<rect x="583" y="428" width="1" height="22" fill="#06a66f"/>
<rect x="584" y="435" width="1" height="14" fill="#f8504f"/>
<rect x="585" y="440" width="1" height="9" fill="#f8504f"/>
<rect x="586" y="435" width="1" height="16" fill="#06a66f"/>
<rect x="587" y="438" width="1" height="12" fill="#f8504f"/>
<rect x="588" y="446" width="1" height="7" fill="#06a66f"/>
<rect x="589" y="445" width="1" height="9" fill="#f8504f"/>
<rect x="591" y="432" width="1" height="24" fill="#06a66f"/>
<rect x="592" y="435" width="1" height="20" fill="#f8504f"/>
<rect x="593" y="427" width="1" height="27" fill="#06a66f"/>
<rect x="594" y="427" width="1" height="21" fill="#f8504f"/>
<rect x="595" y="433" width="1" height="38" fill="#06a66f"/>
<rect x="596" y="438" width="1" height="16" fill="#f8504f"/>
<rect x="598" y="442" width="1" height="13" fill="#f8504f"/>
<rect x="599" y="446" width="1" height="27" fill="#f8504f"/>
<rect x="600" y="449" width="1" height="26" fill="#f8504f"/>
<rect x="601" y="466" width="1" height="6" fill="#06a66f"/>
<rect x="602" y="441" width="1" height="23" fill="#06a66f"/>
<rect x="603" y="449" width="1" height="10" fill="#06a66f"/>
<rect x="604" y="435" width="1" height="20" fill="#06a66f"/>
<rect x="606" y="420" width="1" height="27" fill="#06a66f"/>
<rect x="607" y="415" width="1" height="16" fill="#06a66f"/>
<rect x="608" y="408" width="1" height="15" fill="#06a66f"/>
<rect x="609" y="407" width="1" height="22" fill="#f8504f"/>
<rect x="610" y="409" width="1" height="12" fill="#f8504f"/>
<rect x="611" y="415" width="1" height="15" fill="#f8504f"/>
<rect x="612" y="414" width="1" height="18" fill="#06a66f"/>
<rect x="614" y="411" width="1" height="18" fill="#06a66f"/>
<rect x="615" y="414" width="1" height="19" fill="#f8504f"/>
<rect x="616" y="420" width="1" height="20" fill="#f8504f"/>
<rect x="617" y="423" width="1" height="17" fill="#f8504f"/>
<rect x="618" y="432" width="1" height="19" fill="#f8504f"/>
<rect x="619" y="430" width="1" height="23" fill="#f8504f"/>
<rect x="620" y="436" width="1" height="14" fill="#06a66f"/>
<rect x="622" y="442" width="1" height="4" fill="#f8504f"/>
<rect x="623" y="446" width="1" height="14" fill="#f8504f"/>
<rect x="624" y="452" width="1" height="5" fill="#06a66f"/>
<rect x="625" y="429" width="1" height="15" fill="#06a66f"/>
<rect x="626" y="406" width="1" height="16" fill="#06a66f"/>
<rect x="627" y="371" width="1" height="41" fill="#06a66f"/>
<rect x="628" y="376" width="1" height="27" fill="#06a66f"/>
<rect x="630" y="378" width="1" height="14" fill="#f8504f"/>
<rect x="631" y="374" width="1" height="25" fill="#06a66f"/>
<rect x="632" y="376" width="1" height="26" fill="#f8504f"/>
<rect x="633" y="387" width="1" height="5" fill="#06a66f"/>
<rect x="634" y="384" width="1" height="5" fill="#06a66f"/>
<rect x="635" y="389" width="1" height="27" fill="#f8504f"/>
<rect x="637" y="399" width="1" height="23" fill="#06a66f"/>
<rect x="638" y="408" width="1" height="9" fill="#f8504f"/>
<rect x="639" y="411" width="1" height="9" fill="#f8504f"/>
<rect x="640" y="413" width="1" height="14" fill="#f8504f"/>
<rect x="641" y="420" width="1" height="11" fill="#06a66f"/>
<rect x="642" y="418" width="1" height="9" fill="#f8504f"/>
<rect x="643" y="421" width="1" height="17" fill="#f8504f"/>
<rect x="645" y="433" width="1" height="14" fill="#f8504f"/>
<rect x="646" y="428" width="1" height="23" fill="#06a66f"/>
<rect x="647" y="430" width="1" height="13" fill="#f8504f"/>
<rect x="648" y="434" width="1" height="8" fill="#06a66f"/>
<rect x="649" y="438" width="1" height="3" fill="#06a66f"/>
<rect x="650" y="439" width="1" height="13" fill="#f8504f"/>
<rect x="651" y="443" width="1" height="3" fill="#f8504f"/>
<rect x="653" y="432" width="1" height="19" fill="#06a66f"/>
<rect x="654" y="432" width="1" height="19" fill="#f8504f"/>
<rect x="655" y="433" width="1" height="18" fill="#06a66f"/>
<rect x="656" y="434" width="1" height="7" fill="#06a66f"/>
<rect x="657" y="430" width="1" height="12" fill="#06a66f"/>
<rect x="658" y="434" width="1" height="14" fill="#f8504f"/>
<rect x="659" y="432" width="1" height="12" fill="#06a66f"/>
<rect x="661" y="435" width="1" height="9" fill="#06a66f"/>
<rect x="662" y="433" width="1" height="7" fill="#06a66f"/>
<rect x="663" y="442" width="1" height="17" fill="#f8504f"/>
<rect x="664" y="449" width="1" height="33" fill="#f8504f"/>
<rect x="665" y="463" width="1" height="16" fill="#06a66f"/>
<rect x="666" y="460" width="1" height="9" fill="#f8504f"/>
<rect x="667" y="464" width="1" height="12" fill="#f8504f"/>
<rect x="669" y="466" width="1" height="27" fill="#f8504f"/>
<rect x="670" y="483" width="1" height="27" fill="#f8504f"/>
<rect x="671" y="504" width="1" height="22" fill="#f8504f"/>
<rect x="672" y="520" width="1" height="19" fill="#06a66f"/>
<rect x="673" y="515" width="1" height="11" fill="#f8504f"/>
<rect x="674" y="525" width="1" height="14" fill="#f8504f"/>
<rect x="676" y="536" width="1" height="13" fill="#f8504f"/>
<rect x="677" y="545" width="1" height="19" fill="#f8504f"/>
<rect x="678" y="561" width="1" height="4" fill="#06a66f"/>
<rect x="679" y="556" width="1" height="27" fill="#f8504f"/>
<rect x="680" y="562" width="1" height="21" fill="#f8504f"/>
<rect x="681" y="558" width="1" height="20" fill="#06a66f"/>
<rect x="682" y="512" width="1" height="58" fill="#06a66f"/>
<rect x="684" y="555" width="1" height="9" fill="#06a66f"/>
<rect x="685" y="549" width="1" height="9" fill="#06a66f"/>
<rect x="686" y="543" width="1" height="13" fill="#06a66f"/>
<rect x="687" y="535" width="1" height="23" fill="#06a66f"/>
<rect x="688" y="540" width="1" height="4" fill="#f8504f"/>
<rect x="689" y="540" width="1" height="14" fill="#06a66f"/>
<rect x="690" y="547" width="1" height="19" fill="#f8504f"/>
<rect x="692" y="557" width="1" height="6" fill="#06a66f"/>
<rect x="693" y="565" width="1" height="22" fill="#f8504f"/>
<rect x="694" y="581" width="1" height="22" fill="#f8504f"/>
<rect x="695" y="597" width="1" height="37" fill="#f8504f"/>
<rect x="696" y="614" width="1" height="19" fill="#06a66f"/>
<rect x="697" y="614" width="1" height="24" fill="#f8504f"/>
<rect x="698" y="626" width="1" height="14" fill="#f8504f"/>
<rect x="700" y="620" width="1" height="12" fill="#06a66f"/>
<rect x="701" y="621" width="1" height="5" fill="#f8504f"/>
<rect x="702" y="618" width="1" height="15" fill="#06a66f"/>
<rect x="703" y="617" width="1" height="22" fill="#f8504f"/>
<rect x="704" y="620" width="1" height="32" fill="#06a66f"/>
<rect x="705" y="621" width="1" height="14" fill="#06a66f"/>
<rect x="706" y="615" width="1" height="8" fill="#06a66f"/>
<rect x="708" y="611" width="1" height="10" fill="#06a66f"/>
<rect x="709" y="596" width="1" height="22" fill="#06a66f"/>
<rect x="710" y="601" width="1" height="14" fill="#06a66f"/>
<rect x="711" y="597" width="1" height="7" fill="#06a66f"/>
<rect x="712" y="601" width="1" height="4" fill="#f8504f"/>
<rect x="713" y="591" width="1" height="16" fill="#06a66f"/>
<rect x="715" y="588" width="1" height="13" fill="#f8504f"/>
<rect x="716" y="588" width="1" height="13" fill="#f8504f"/>
<rect x="717" y="572" width="1" height="27" fill="#06a66f"/>
<rect x="718" y="561" width="1" height="24" fill="#06a66f"/>
<rect x="719" y="560" width="1" height="13" fill="#f8504f"/>
<rect x="720" y="549" width="1" height="21" fill="#06a66f"/>
<rect x="721" y="549" width="1" height="20" fill="#06a66f"/>
<rect x="723" y="527" width="1" height="42" fill="#06a66f"/>
<rect x="724" y="515" width="1" height="21" fill="#06a66f"/>
<rect x="725" y="523" width="1" height="11" fill="#06a66f"/>
<rect x="726" y="526" width="1" height="21" fill="#f8504f"/>
<rect x="727" y="523" width="1" height="17" fill="#06a66f"/>
<rect x="728" y="519" width="1" height="22" fill="#06a66f"/>
<rect x="729" y="527" width="1" height="4" fill="#f8504f"/>
<rect x="731" y="534" width="1" height="32" fill="#f8504f"/>
<rect x="732" y="558" width="1" height="16" fill="#f8504f"/>
<rect x="733" y="561" width="1" height="13" fill="#f8504f"/>
<rect x="734" y="555" width="1" height="12" fill="#06a66f"/>
<rect x="735" y="545" width="1" height="18" fill="#06a66f"/>
<rect x="736" y="543" width="1" height="15" fill="#f8504f"/>
<rect x="737" y="548" width="1" height="10" fill="#06a66f"/>
<rect x="739" y="548" width="1" height="10" fill="#06a66f"/>
<rect x="740" y="536" width="1" height="20" fill="#06a66f"/>
<rect x="741" y="528" width="1" height="11" fill="#06a66f"/>
<rect x="742" y="533" width="1" height="4" fill="#06a66f"/>
<rect x="743" y="528" width="1" height="14" fill="#f8504f"/>
<rect x="744" y="520" width="1" height="20" fill="#06a66f"/>
<rect x="745" y="518" width="1" height="8" fill="#06a66f"/>
<rect x="747" y="523" width="1" height="12" fill="#f8504f"/>
<rect x="748" y="528" width="1" height="9" fill="#f8504f"/>
<rect x="749" y="527" width="1" height="6" fill="#06a66f"/>
<rect x="750" y="507" width="1" height="17" fill="#06a66f"/>
<rect x="751" y="485" width="1" height="24" fill="#06a66f"/>
<rect x="752" y="486" width="1" height="26" fill="#f8504f"/>
<rect x="754" y="476" width="1" height="37" fill="#06a66f"/>
<rect x="755" y="478" width="1" height="18" fill="#f8504f"/>
<rect x="756" y="487" width="1" height="20" fill="#f8504f"/>
<rect x="757" y="488" width="1" height="19" fill="#f8504f"/>
<rect x="758" y="499" width="1" height="4" fill="#06a66f"/>
<rect x="759" y="492" width="1" height="9" fill="#06a66f"/>
<rect x="760" y="485" width="1" height="12" fill="#06a66f"/>
<rect x="762" y="483" width="1" height="3" fill="#f8504f"/>
<rect x="763" y="482" width="1" height="15" fill="#f8504f"/>
<rect x="764" y="486" width="1" height="22" fill="#06a66f"/>
<rect x="765" y="501" width="1" height="29" fill="#f8504f"/>
<rect x="766" y="519" width="1" height="32" fill="#f8504f"/>
<rect x="767" y="540" width="1" height="5" fill="#06a66f"/>
<rect x="768" y="530" width="1" height="19" fill="#06a66f"/>
<rect x="770" y="537" width="1" height="6" fill="#f8504f"/>
<rect x="771" y="542" width="1" height="13" fill="#f8504f"/>
<rect x="772" y="547" width="1" height="20" fill="#f8504f"/>
<rect x="773" y="540" width="1" height="20" fill="#06a66f"/>
<rect x="774" y="517" width="1" height="37" fill="#06a66f"/>
<rect x="775" y="525" width="1" height="27" fill="#f8504f"/>
<rect x="776" y="535" width="1" height="17" fill="#f8504f"/>
<rect x="778" y="546" width="1" height="3" fill="#f8504f"/>
<rect x="779" y="541" width="1" height="6" fill="#06a66f"/>
<rect x="780" y="532" width="1" height="8" fill="#06a66f"/>
<rect x="781" y="533" width="1" height="3" fill="#06a66f"/>
<rect x="782" y="514" width="1" height="19" fill="#06a66f"/>
<rect x="783" y="507" width="1" height="11" fill="#06a66f"/>
<rect x="784" y="502" width="1" height="19" fill="#f8504f"/>
<rect x="786" y="512" width="1" height="12" fill="#06a66f"/>
<rect x="787" y="511" width="1" height="8" fill="#06a66f"/>
<rect x="788" y="511" width="1" height="6" fill="#f8504f"/>
<rect x="789" y="514" width="1" height="6" fill="#f8504f"/>
<rect x="790" y="514" width="1" height="9" fill="#f8504f"/>
<rect x="791" y="514" width="1" height="29" fill="#06a66f"/>
<rect x="793" y="516" width="1" height="26" fill="#f8504f"/>
<rect x="794" y="526" width="1" height="13" fill="#f8504f"/>
<rect x="795" y="521" width="1" height="20" fill="#06a66f"/>
<rect x="796" y="523" width="1" height="6" fill="#f8504f"/>
<rect x="797" y="517" width="1" height="15" fill="#f8504f"/>
<rect x="798" y="515" width="1" height="17" fill="#06a66f"/>
<rect x="799" y="527" width="1" height="13" fill="#f8504f"/>
<rect x="801" y="534" width="1" height="22" fill="#f8504f"/>
<rect x="802" y="548" width="1" height="6" fill="#06a66f"/>
<rect x="803" y="551" width="1" height="11" fill="#f8504f"/>
<rect x="804" y="556" width="1" height="9" fill="#f8504f"/>
<rect x="805" y="553" width="1" height="11" fill="#06a66f"/>
<rect x="806" y="550" width="1" height="13" fill="#f8504f"/>
<rect x="807" y="553" width="1" height="9" fill="#06a66f"/>
<rect x="809" y="554" width="1" height="5" fill="#f8504f"/>
<rect x="810" y="551" width="1" height="13" fill="#f8504f"/>
<rect x="811" y="558" width="1" height="5" fill="#06a66f"/>
<rect x="812" y="559" width="1" height="4" fill="#06a66f"/>
<rect x="813" y="555" width="1" height="8" fill="#06a66f"/>
<rect x="814" y="557" width="1" height="5" fill="#f8504f"/>
<rect x="815" y="548" width="1" height="11" fill="#06a66f"/>
<rect x="817" y="542" width="1" height="10" fill="#06a66f"/>
<rect x="818" y="541" width="1" height="10" fill="#f8504f"/>
<rect x="819" y="506" width="1" height="46" fill="#06a66f"/>
<rect x="820" y="509" width="1" height="26" fill="#06a66f"/>
<rect x="821" y="483" width="1" height="28" fill="#06a66f"/>
<rect x="822" y="486" width="1" height="24" fill="#06a66f"/>
<rect x="823" y="475" width="1" height="21" fill="#06a66f"/>
<rect x="825" y="473" width="1" height="23" fill="#f8504f"/>
<rect x="826" y="475" width="1" height="11" fill="#06a66f"/>
<rect x="827" y="447" width="1" height="37" fill="#06a66f"/>
<rect x="828" y="454" width="1" height="16" fill="#f8504f"/>
<rect x="829" y="460" width="1" height="15" fill="#f8504f"/>
<rect x="830" y="466" width="1" height="22" fill="#f8504f"/>
<rect x="831" y="481" width="1" height="22" fill="#f8504f"/>
<rect x="833" y="495" width="1" height="55" fill="#f8504f"/>
<rect x="834" y="514" width="1" height="25" fill="#06a66f"/>
<rect x="835" y="508" width="1" height="8" fill="#06a66f"/>
<rect x="836" y="507" width="1" height="11" fill="#f8504f"/>
<rect x="837" y="506" width="1" height="25" fill="#06a66f"/>
<rect x="838" y="508" width="1" height="30" fill="#f8504f"/>
<rect x="840" y="516" width="1" height="28" fill="#f8504f"/>
<rect x="841" y="524" width="1" height="23" fill="#06a66f"/>
<rect x="842" y="517" width="1" height="38" fill="#f8504f"/>
<rect x="843" y="524" width="1" height="19" fill="#06a66f"/>
<rect x="844" y="507" width="1" height="27" fill="#06a66f"/>
<rect x="845" y="509" width="1" height="4" fill="#06a66f"/>
<rect x="846" y="493" width="1" height="22" fill="#06a66f"/>
<rect x="848" y="440" width="1" height="60" fill="#06a66f"/>
<rect x="849" y="477" width="1" height="30" fill="#06a66f"/>
<rect x="850" y="473" width="1" height="32" fill="#f8504f"/>
<rect x="851" y="487" width="1" height="16" fill="#06a66f"/>
<rect x="852" y="487" width="1" height="3" fill="#f8504f"/>
<rect x="853" y="472" width="1" height="26" fill="#06a66f"/>
<rect x="854" y="449" width="1" height="29" fill="#06a66f"/>
<rect x="856" y="446" width="1" height="19" fill="#f8504f"/>
<rect x="857" y="458" width="1" height="6" fill="#06a66f"/>
<rect x="858" y="459" width="1" height="17" fill="#f8504f"/>
<rect x="859" y="467" width="1" height="11" fill="#f8504f"/>
<rect x="860" y="477" width="1" height="17" fill="#f8504f"/>
<rect x="861" y="482" width="1" height="31" fill="#f8504f"/>
<rect x="862" y="482" width="1" height="25" fill="#06a66f"/>
<rect x="864" y="481" width="1" height="29" fill="#f8504f"/>
<rect x="865" y="478" width="1" height="27" fill="#06a66f"/>
<rect x="866" y="484" width="1" height="30" fill="#f8504f"/>
<rect x="867" y="499" width="1" height="7" fill="#06a66f"/>
<rect x="868" y="499" width="1" height="15" fill="#f8504f"/>
<rect x="869" y="508" width="1" height="16" fill="#f8504f"/>
<rect x="870" y="514" width="1" height="5" fill="#f8504f"/>
<rect x="872" y="520" width="1" height="14" fill="#f8504f"/>
<rect x="873" y="526" width="1" height="9" fill="#06a66f"/>
<rect x="874" y="532" width="1" height="3" fill="#f8504f"/>
<rect x="875" y="535" width="1" height="19" fill="#f8504f"/>
<rect x="876" y="550" width="1" height="4" fill="#06a66f"/>
<rect x="877" y="546" width="1" height="6" fill="#06a66f"/>
<rect x="879" y="550" width="1" height="4" fill="#f8504f"/>
<rect x="880" y="549" width="1" height="7" fill="#f8504f"/>
<rect x="881" y="546" width="1" height="10" fill="#06a66f"/>
<rect x="882" y="548" width="1" height="3" fill="#06a66f"/>
<rect x="883" y="547" width="1" height="8" fill="#f8504f"/>
<rect x="884" y="546" width="1" height="13" fill="#f8504f"/>
<rect x="885" y="536" width="1" height="23" fill="#06a66f"/>
<rect x="887" y="543" width="1" height="17" fill="#f8504f"/>
<rect x="888" y="553" width="1" height="5" fill="#06a66f"/>
<rect x="889" y="555" width="1" height="4" fill="#f8504f"/>
<rect x="890" y="549" width="1" height="9" fill="#06a66f"/>
<rect x="891" y="547" width="1" height="6" fill="#f8504f"/>
<rect x="892" y="546" width="1" height="6" fill="#f8504f"/>
<rect x="893" y="551" width="1" height="10" fill="#f8504f"/>
<rect x="895" y="549" width="1" height="12" fill="#06a66f"/>
<rect x="896" y="553" width="1" height="6" fill="#f8504f"/>
<rect x="897" y="554" width="1" height="8" fill="#f8504f"/>
<rect x="898" y="555" width="1" height="8" fill="#06a66f"/>
<rect x="899" y="559" width="1" height="16" fill="#f8504f"/>
<rect x="900" y="572" width="1" height="10" fill="#f8504f"/>
<rect x="901" y="572" width="1" height="16" fill="#06a66f"/>
<rect x="903" y="574" width="1" height="22" fill="#f8504f"/>
<rect x="904" y="591" width="1" height="15" fill="#f8504f"/>
<rect x="905" y="595" width="1" height="14" fill="#f8504f"/>
<rect x="906" y="604" width="1" height="4" fill="#f8504f"/>
<rect x="907" y="604" width="1" height="3" fill="#06a66f"/>
<rect x="908" y="603" width="1" height="3" fill="#f8504f"/>
<rect x="909" y="599" width="1" height="12" fill="#06a66f"/>
<rect x="911" y="598" width="1" height="24" fill="#f8504f"/>
<rect x="912" y="611" width="1" height="9" fill="#06a66f"/>
<rect x="913" y="617" width="1" height="11" fill="#f8504f"/>
<rect x="914" y="624" width="1" height="3" fill="#f8504f"/>
<rect x="915" y="614" width="1" height="11" fill="#06a66f"/>
<rect x="916" y="613" width="1" height="6" fill="#f8504f"/>
<rect x="918" y="615" width="1" height="13" fill="#f8504f"/>
<rect x="919" y="621" width="1" height="16" fill="#f8504f"/>
<rect x="920" y="622" width="1" height="18" fill="#f8504f"/>
<rect x="921" y="612" width="1" height="19" fill="#06a66f"/>
<rect x="922" y="596" width="1" height="27" fill="#06a66f"/>
<rect x="923" y="592" width="1" height="23" fill="#f8504f"/>
<rect x="924" y="595" width="1" height="11" fill="#06a66f"/>
<rect x="926" y="572" width="1" height="30" fill="#06a66f"/>
<rect x="927" y="577" width="1" height="20" fill="#f8504f"/>
<rect x="928" y="585" width="1" height="10" fill="#06a66f"/>
<rect x="929" y="583" width="1" height="14" fill="#f8504f"/>
<rect x="930" y="581" width="1" height="10" fill="#06a66f"/>
<rect x="931" y="582" width="1" height="4" fill="#f8504f"/>
<rect x="932" y="584" width="1" height="5" fill="#f8504f"/>
<rect x="934" y="585" width="1" height="11" fill="#f8504f"/>
<rect x="935" y="586" width="1" height="7" fill="#06a66f"/>
<rect x="936" y="573" width="1" height="15" fill="#06a66f"/>
<rect x="937" y="567" width="1" height="16" fill="#f8504f"/>
<rect x="938" y="568" width="1" height="15" fill="#06a66f"/>
<rect x="939" y="567" width="1" height="7" fill="#06a66f"/>
<rect x="940" y="561" width="1" height="16" fill="#06a66f"/>
<rect x="942" y="554" width="1" height="10" fill="#06a66f"/>
<rect x="943" y="556" width="1" height="6" fill="#06a66f"/>
<rect x="944" y="555" width="1" height="19" fill="#f8504f"/>
<rect x="945" y="556" width="1" height="11" fill="#06a66f"/>
<rect x="946" y="529" width="1" height="21" fill="#06a66f"/>
<rect x="947" y="533" width="1" height="10" fill="#f8504f"/>
<rect x="948" y="529" width="1" height="8" fill="#f8504f"/>
<rect x="950" y="522" width="1" height="13" fill="#06a66f"/>
<rect x="951" y="522" width="1" height="7" fill="#06a66f"/>
<rect x="952" y="524" width="1" height="5" fill="#f8504f"/>
<rect x="953" y="515" width="1" height="18" fill="#06a66f"/>
<rect x="954" y="511" width="1" height="6" fill="#06a66f"/>
<rect x="955" y="509" width="1" height="10" fill="#f8504f"/>
<rect x="957" y="510" width="1" height="22" fill="#06a66f"/>
<rect x="958" y="511" width="1" height="18" fill="#f8504f"/>
<rect x="959" y="516" width="1" height="4" fill="#06a66f"/>
<rect x="960" y="516" width="1" height="6" fill="#f8504f"/>
<rect x="961" y="513" width="1" height="8" fill="#06a66f"/>
<rect x="962" y="506" width="1" height="16" fill="#06a66f"/>
<rect x="963" y="508" width="1" height="9" fill="#f8504f"/>
<rect x="965" y="496" width="1" height="29" fill="#f8504f"/>
<rect x="966" y="505" width="1" height="13" fill="#06a66f"/>
<rect x="967" y="500" width="1" height="11" fill="#f8504f"/>
<rect x="968" y="518" width="1" height="32" fill="#f8504f"/>
<rect x="969" y="537" width="1" height="5" fill="#f8504f"/>
<rect x="970" y="542" width="1" height="7" fill="#f8504f"/>
<rect x="971" y="544" width="1" height="24" fill="#f8504f"/>
<rect x="973" y="553" width="1" height="13" fill="#f8504f"/>
<rect x="974" y="537" width="1" height="26" fill="#06a66f"/>
<rect x="975" y="539" width="1" height="20" fill="#f8504f"/>
<rect x="976" y="542" width="1" height="25" fill="#f8504f"/>
<rect x="977" y="554" width="1" height="15" fill="#06a66f"/>
<rect x="978" y="558" width="1" height="13" fill="#f8504f"/>
<rect x="979" y="536" width="1" height="36" fill="#06a66f"/>
<rect x="981" y="540" width="1" height="29" fill="#06a66f"/>
<rect x="982" y="526" width="1" height="31" fill="#06a66f"/>
<rect x="983" y="522" width="1" height="25" fill="#06a66f"/>
<rect x="984" y="503" width="1" height="33" fill="#06a66f"/>
<rect x="985" y="515" width="1" height="12" fill="#f8504f"/>
<rect x="986" y="504" width="1" height="22" fill="#06a66f"/>
<rect x="987" y="498" width="1" height="20" fill="#f8504f"/>
<rect x="989" y="505" width="1" height="13" fill="#06a66f"/>
<rect x="990" y="505" width="1" height="18" fill="#f8504f"/>
<rect x="991" y="506" width="1" height="14" fill="#06a66f"/>
<rect x="992" y="511" width="1" height="7" fill="#f8504f"/>
<rect x="993" y="517" width="1" height="19" fill="#f8504f"/>
<rect x="994" y="523" width="1" height="14" fill="#06a66f"/>
<rect x="996" y="513" width="1" height="18" fill="#06a66f"/>
<rect x="997" y="513" width="1" height="6" fill="#f8504f"/>
<rect x="998" y="510" width="1" height="6" fill="#06a66f"/>
<rect x="999" y="509" width="1" height="12" fill="#06a66f"/>
<rect x="1000" y="507" width="1" height="14" fill="#f8504f"/>
<rect x="1001" y="504" width="1" height="24" fill="#06a66f"/>
<rect x="1002" y="510" width="1" height="15" fill="#f8504f"/>
<rect x="1004" y="501" width="1" height="27" fill="#06a66f"/>
<rect x="1005" y="510" width="1" height="9" fill="#f8504f"/>
<rect x="1006" y="510" width="1" height="11" fill="#06a66f"/>
<rect x="1007" y="511" width="1" height="22" fill="#f8504f"/>
<rect x="1008" y="525" width="1" height="10" fill="#f8504f"/>
<rect x="1009" y="522" width="1" height="16" fill="#f8504f"/>
<rect x="1010" y="521" width="1" height="27" fill="#06a66f"/>
<rect x="1012" y="529" width="1" height="38" fill="#f8504f"/>
<rect x="1013" y="540" width="1" height="48" fill="#f8504f"/>
<rect x="1014" y="551" width="1" height="34" fill="#f8504f"/>
<rect x="1015" y="564" width="1" height="14" fill="#06a66f"/>
<rect x="1016" y="553" width="1" height="13" fill="#06a66f"/>
<rect x="1017" y="549" width="1" height="13" fill="#06a66f"/>
<rect x="1018" y="549" width="1" height="10" fill="#06a66f"/>
<rect x="1020" y="544" width="1" height="8" fill="#06a66f"/>
<rect x="1021" y="534" width="1" height="14" fill="#06a66f"/>
<rect x="1022" y="536" width="1" height="9" fill="#f8504f"/>
<rect x="1023" y="538" width="1" height="6" fill="#f8504f"/>
<rect x="1024" y="532" width="1" height="9" fill="#06a66f"/>
<rect x="1025" y="513" width="1" height="24" fill="#06a66f"/>
<rect x="1026" y="504" width="1" height="20" fill="#06a66f"/>
<rect x="1028" y="505" width="1" height="10" fill="#06a66f"/>
<rect x="1029" y="494" width="1" height="13" fill="#06a66f"/>
<rect x="1030" y="500" width="1" height="11" fill="#06a66f"/>
<rect x="1031" y="462" width="1" height="38" fill="#06a66f"/>
<rect x="1032" y="485" width="1" height="16" fill="#06a66f"/>
<rect x="1033" y="468" width="1" height="25" fill="#06a66f"/>
<rect x="1035" y="473" width="1" height="20" fill="#f8504f"/>
<rect x="1036" y="473" width="1" height="28" fill="#06a66f"/>
<rect x="1037" y="474" width="1" height="5" fill="#f8504f"/>
<rect x="1038" y="475" width="1" height="7" fill="#f8504f"/>
<rect x="1039" y="475" width="1" height="9" fill="#06a66f"/>
<rect x="1040" y="472" width="1" height="17" fill="#f8504f"/>
<rect x="1041" y="489" width="1" height="20" fill="#f8504f"/>
<rect x="1043" y="501" width="1" height="15" fill="#f8504f"/>
<rect x="1044" y="510" width="1" height="8" fill="#06a66f"/>
<rect x="1045" y="508" width="1" height="21" fill="#f8504f"/>
<rect x="1046" y="522" width="1" height="11" fill="#f8504f"/>
<rect x="1047" y="519" width="1" height="15" fill="#06a66f"/>
<rect x="1048" y="516" width="1" height="21" fill="#06a66f"/>
<rect x="1049" y="516" width="1" height="22" fill="#f8504f"/>
<rect x="1051" y="514" width="1" height="22" fill="#06a66f"/>
<rect x="1052" y="515" width="1" height="20" fill="#f8504f"/>
<rect x="1053" y="515" width="1" height="20" fill="#06a66f"/>
<rect x="1054" y="509" width="1" height="30" fill="#06a66f"/>
<rect x="1055" y="514" width="1" height="12" fill="#f8504f"/>
<rect x="1056" y="524" width="1" height="5" fill="#f8504f"/>
<rect x="1057" y="525" width="1" height="16" fill="#f8504f"/>
<rect x="1059" y="533" width="1" height="8" fill="#f8504f"/>
<rect x="1060" y="536" width="1" height="5" fill="#f8504f"/>
<rect x="1061" y="539" width="1" height="4" fill="#f8504f"/>
<rect x="1062" y="541" width="1" height="6" fill="#f8504f"/>
<rect x="1063" y="536" width="1" height="19" fill="#06a66f"/>
<rect x="1064" y="536" width="1" height="12" fill="#f8504f"/>
<rect x="1065" y="538" width="1" height="11" fill="#f8504f"/>
<rect x="1067" y="543" width="1" height="17" fill="#f8504f"/>
<rect x="1068" y="547" width="1" height="11" fill="#06a66f"/>
<rect x="1069" y="544" width="1" height="18" fill="#f8504f"/>
<rect x="1070" y="558" width="1" height="6" fill="#f8504f"/>
<rect x="1071" y="563" width="1" height="3" fill="#06a66f"/>
<rect x="1072" y="562" width="1" height="12" fill="#f8504f"/>
<rect x="1074" y="567" width="1" height="5" fill="#f8504f"/>
<rect x="1075" y="567" width="1" height="12" fill="#f8504f"/>
<rect x="1076" y="573" width="1" height="14" fill="#f8504f"/>
<rect x="1077" y="574" width="1" height="10" fill="#06a66f"/>
<rect x="1078" y="574" width="1" height="6" fill="#06a66f"/>
<rect x="1079" y="574" width="1" height="7" fill="#f8504f"/>
<rect x="1080" y="574" width="1" height="5" fill="#f8504f"/>
<rect x="1082" y="574" width="1" height="14" fill="#f8504f"/>
<rect x="1083" y="580" width="1" height="9" fill="#06a66f"/>
<rect x="1084" y="571" width="1" height="13" fill="#06a66f"/>
<rect x="1085" y="575" width="1" height="3" fill="#06a66f"/>
<rect x="1086" y="570" width="1" height="4" fill="#06a66f"/>
<rect x="1087" y="547" width="1" height="23" fill="#06a66f"/>
<rect x="1088" y="548" width="1" height="24" fill="#f8504f"/>
<rect x="1090" y="562" width="1" height="10" fill="#f8504f"/>
<rect x="1091" y="570" width="1" height="5" fill="#f8504f"/>
<rect x="1092" y="563" width="1" height="11" fill="#06a66f"/>
<rect x="1093" y="568" width="1" height="11" fill="#f8504f"/>
<rect x="1094" y="574" width="1" height="3" fill="#f8504f"/>
<rect x="1095" y="581" width="1" height="13" fill="#f8504f"/>
<rect x="1096" y="584" width="1" height="12" fill="#f8504f"/>
<rect x="1098" y="593" width="1" height="3" fill="#06a66f"/>
<rect x="1099" y="581" width="1" height="14" fill="#06a66f"/>
<rect x="1100" y="586" width="1" height="3" fill="#06a66f"/>
<rect x="1101" y="584" width="1" height="3" fill="#06a66f"/>
<rect x="1102" y="573" width="1" height="12" fill="#06a66f"/>
<rect x="1103" y="574" width="1" height="8" fill="#f8504f"/>
<rect x="1104" y="574" width="1" height="8" fill="#06a66f"/>
<rect x="1106" y="568" width="1" height="11" fill="#06a66f"/>
<rect x="1107" y="565" width="1" height="6" fill="#06a66f"/>
<rect x="1108" y="556" width="1" height="12" fill="#06a66f"/>
<rect x="1109" y="554" width="1" height="13" fill="#f8504f"/>
<rect x="1110" y="552" width="1" height="12" fill="#06a66f"/>
<rect x="1111" y="545" width="1" height="11" fill="#06a66f"/>
<rect x="1113" y="540" width="1" height="12" fill="#f8504f"/>
<rect x="1114" y="546" width="1" height="7" fill="#f8504f"/>
<rect x="1115" y="545" width="1" height="4" fill="#06a66f"/>
<rect x="1116" y="527" width="1" height="20" fill="#06a66f"/>
<rect x="1117" y="535" width="1" height="4" fill="#f8504f"/>
<rect x="1118" y="519" width="1" height="20" fill="#06a66f"/>
<rect x="1119" y="512" width="1" height="18" fill="#06a66f"/>
<rect x="1121" y="519" width="1" height="41" fill="#f8504f"/>
<rect x="1122" y="520" width="1" height="55" fill="#f8504f"/>
<rect x="1123" y="552" width="1" height="25" fill="#f8504f"/>
<rect x="1124" y="544" width="1" height="31" fill="#06a66f"/>
<rect x="1125" y="547" width="1" height="27" fill="#f8504f"/>
<rect x="1126" y="552" width="1" height="19" fill="#06a66f"/>
<rect x="1127" y="553" width="1" height="13" fill="#f8504f"/>
<rect x="1129" y="566" width="1" height="14" fill="#f8504f"/>
<rect x="1130" y="567" width="1" height="15" fill="#06a66f"/>
<rect x="1131" y="568" width="1" height="9" fill="#f8504f"/>
<rect x="1132" y="575" width="1" height="10" fill="#f8504f"/>
<rect x="1133" y="574" width="1" height="9" fill="#06a66f"/>
<rect x="1134" y="570" width="1" height="11" fill="#f8504f"/>
<rect x="1135" y="577" width="1" height="10" fill="#f8504f"/>
<rect x="1137" y="582" width="1" height="12" fill="#f8504f"/>
<rect x="1138" y="584" width="1" height="4" fill="#f8504f"/>
<rect x="1139" y="586" width="1" height="8" fill="#f8504f"/>
<rect x="1140" y="590" width="1" height="20" fill="#f8504f"/>
<rect x="1141" y="604" width="1" height="9" fill="#06a66f"/>
<rect x="1142" y="588" width="1" height="21" fill="#06a66f"/>
<rect x="1143" y="591" width="1" height="6" fill="#f8504f"/>
<rect x="1145" y="595" width="1" height="10" fill="#f8504f"/>
<rect x="1146" y="594" width="1" height="9" fill="#f8504f"/>
<rect x="1147" y="594" width="1" height="4" fill="#06a66f"/>
<rect x="1148" y="565" width="1" height="26" fill="#06a66f"/>
<rect x="1149" y="529" width="1" height="51" fill="#06a66f"/>
<rect x="1150" y="526" width="1" height="46" fill="#f8504f"/>
<rect x="1152" y="547" width="1" height="6" fill="#f8504f"/>
<rect x="1153" y="558" width="1" height="6" fill="#f8504f"/>
<rect x="1154" y="554" width="1" height="17" fill="#06a66f"/>
<rect x="1155" y="555" width="1" height="13" fill="#f8504f"/>
<rect x="1156" y="559" width="1" height="16" fill="#f8504f"/>
<rect x="1157" y="567" width="1" height="7" fill="#06a66f"/>
<rect x="1158" y="567" width="1" height="32" fill="#f8504f"/>
<rect x="1160" y="594" width="1" height="20" fill="#f8504f"/>
<rect x="1161" y="588" width="1" height="19" fill="#06a66f"/>
<rect x="1162" y="590" width="1" height="18" fill="#f8504f"/>
<rect x="1163" y="602" width="1" height="5" fill="#06a66f"/>
<rect x="1164" y="571" width="1" height="30" fill="#06a66f"/>
<rect x="1165" y="572" width="1" height="12" fill="#06a66f"/>
<rect x="1166" y="573" width="1" height="7" fill="#f8504f"/>
<rect x="1168" y="574" width="1" height="7" fill="#06a66f"/>
<rect x="1169" y="573" width="1" height="4" fill="#f8504f"/>
<rect x="1170" y="571" width="1" height="6" fill="#06a66f"/>
<rect x="1171" y="572" width="1" height="12" fill="#f8504f"/>
<rect x="1172" y="577" width="1" height="9" fill="#f8504f"/>
<rect x="1173" y="584" width="1" height="3" fill="#f8504f"/>
<rect x="1174" y="583" width="1" height="6" fill="#f8504f"/>
<rect x="1176" y="589" width="1" height="23" fill="#f8504f"/>
<rect x="1177" y="602" width="1" height="23" fill="#f8504f"/>
<rect x="1178" y="600" width="1" height="26" fill="#06a66f"/>
<rect x="1179" y="602" width="1" height="8" fill="#f8504f"/>
<rect x="1180" y="608" width="1" height="9" fill="#f8504f"/>
<rect x="1181" y="600" width="1" height="12" fill="#06a66f"/>
<rect x="1182" y="588" width="1" height="17" fill="#06a66f"/>
<rect x="1184" y="581" width="1" height="25" fill="#06a66f"/>
<rect x="1185" y="583" width="1" height="12" fill="#f8504f"/>
<rect x="1186" y="586" width="1" height="5" fill="#06a66f"/>
<rect x="1187" y="586" width="1" height="13" fill="#f8504f"/>
<rect x="1188" y="594" width="1" height="11" fill="#f8504f"/>
<rect x="1189" y="604" width="1" height="6" fill="#f8504f"/>
<rect x="1191" y="604" width="1" height="5" fill="#f8504f"/>
<rect x="1192" y="602" width="1" height="7" fill="#06a66f"/>
<rect x="1193" y="601" width="1" height="8" fill="#f8504f"/>
<rect x="1194" y="605" width="1" height="15" fill="#f8504f"/>
<rect x="1195" y="610" width="1" height="6" fill="#06a66f"/>
<rect x="1196" y="608" width="1" height="8" fill="#f8504f"/>
<rect x="1197" y="610" width="1" height="10" fill="#06a66f"/>
<rect x="1199" y="611" width="1" height="5" fill="#f8504f"/>
<rect x="1200" y="610" width="1" height="4" fill="#f8504f"/>
<rect x="1201" y="610" width="1" height="10" fill="#06a66f"/>
<rect x="1202" y="609" width="1" height="6" fill="#f8504f"/>
<rect x="1203" y="603" width="1" height="13" fill="#06a66f"/>
<rect x="1204" y="602" width="1" height="14" fill="#06a66f"/>
<rect x="1205" y="609" width="1" height="10" fill="#f8504f"/>
<rect x="1207" y="615" width="1" height="4" fill="#f8504f"/>
<rect x="1208" y="611" width="1" height="12" fill="#f8504f"/>
<rect x="1209" y="618" width="1" height="22" fill="#f8504f"/>
<rect x="1210" y="622" width="1" height="20" fill="#f8504f"/>
<rect x="1211" y="630" width="1" height="27" fill="#06a66f"/>
<rect x="1212" y="620" width="1" height="37" fill="#f8504f"/>
<rect x="1213" y="586" width="1" height="74" fill="#06a66f"/>
<rect x="1215" y="601" width="1" height="62" fill="#06a66f"/>
<rect x="1216" y="593" width="1" height="18" fill="#f8504f"/>
<rect x="1217" y="604" width="1" height="34" fill="#f8504f"/>
<rect x="1218" y="625" width="1" height="29" fill="#f8504f"/>
<rect x="1219" y="645" width="1" height="10" fill="#06a66f"/>
<rect x="1220" y="648" width="1" height="15" fill="#f8504f"/>
<rect x="1221" y="648" width="1" height="10" fill="#f8504f"/>
<rect x="1223" y="656" width="1" height="10" fill="#f8504f"/>
<rect x="1224" y="647" width="1" height="19" fill="#06a66f"/>
<rect x="1225" y="645" width="1" height="12" fill="#06a66f"/>
<rect x="1226" y="625" width="1" height="24" fill="#06a66f"/>
<rect x="1227" y="629" width="1" height="15" fill="#f8504f"/>
<rect x="1228" y="615" width="1" height="30" fill="#06a66f"/>
<rect x="1230" y="620" width="1" height="29" fill="#f8504f"/>
<rect x="1231" y="622" width="1" height="24" fill="#06a66f"/>
<rect x="1232" y="630" width="1" height="23" fill="#f8504f"/>
<rect x="1233" y="652" width="1" height="34" fill="#f8504f"/>
<rect x="1234" y="668" width="1" height="46" fill="#f8504f"/>
<rect x="1235" y="683" width="1" height="25" fill="#f8504f"/>
<rect x="1236" y="679" width="1" height="24" fill="#06a66f"/>
<rect x="1238" y="680" width="1" height="11" fill="#06a66f"/>
<rect x="1239" y="673" width="1" height="5" fill="#06a66f"/>
<rect x="1240" y="657" width="1" height="10" fill="#06a66f"/>
<rect x="1241" y="654" width="1" height="16" fill="#f8504f"/>
<rect x="1242" y="657" width="1" height="21" fill="#06a66f"/>
<rect x="1243" y="664" width="1" height="18" fill="#f8504f"/>
<rect x="1244" y="668" width="1" height="24" fill="#f8504f"/>
<rect x="1246" y="668" width="1" height="21" fill="#06a66f"/>
<rect x="1247" y="652" width="1" height="20" fill="#06a66f"/>
<rect x="1248" y="655" width="1" height="8" fill="#f8504f"/>
<rect x="1249" y="641" width="1" height="13" fill="#06a66f"/>
<rect x="1250" y="597" width="1" height="44" fill="#06a66f"/>
<rect x="1251" y="603" width="1" height="25" fill="#f8504f"/>
<rect x="1252" y="599" width="1" height="12" fill="#06a66f"/>
<rect x="1254" y="575" width="1" height="29" fill="#06a66f"/>
<rect x="1255" y="580" width="1" height="18" fill="#06a66f"/>
<rect x="1256" y="575" width="1" height="9" fill="#f8504f"/>
<rect x="1257" y="576" width="1" height="8" fill="#06a66f"/>
<rect x="1258" y="570" width="1" height="9" fill="#06a66f"/>
<rect x="1259" y="574" width="1" height="3" fill="#f8504f"/>
<rect x="1260" y="573" width="1" height="3" fill="#06a66f"/>
<rect x="1262" y="565" width="1" height="13" fill="#06a66f"/>
<rect x="1263" y="564" width="1" height="14" fill="#f8504f"/>
<rect x="1264" y="570" width="1" height="11" fill="#06a66f"/>
<rect x="1265" y="567" width="1" height="9" fill="#f8504f"/>
<rect x="1266" y="572" width="1" height="8" fill="#f8504f"/>
<rect x="1267" y="568" width="1" height="13" fill="#06a66f"/>
<rect x="1269" y="568" width="1" height="18" fill="#f8504f"/>
<rect x="1270" y="571" width="1" height="17" fill="#06a66f"/>
<rect x="1271" y="559" width="1" height="27" fill="#f8504f"/>
<rect x="1272" y="578" width="1" height="7" fill="#06a66f"/>
<rect x="1273" y="560" width="1" height="20" fill="#06a66f"/>
<rect x="1274" y="562" width="1" height="11" fill="#f8504f"/>
<rect x="1275" y="571" width="1" height="18" fill="#f8504f"/>
<rect x="1277" y="577" width="1" height="12" fill="#06a66f"/>
<rect x="1278" y="576" width="1" height="8" fill="#06a66f"/>
<rect x="1279" y="574" width="1" height="6" fill="#f8504f"/>
<rect x="1280" y="569" width="1" height="13" fill="#06a66f"/>
<rect x="1281" y="571" width="1" height="13" fill="#f8504f"/>
<rect x="1282" y="577" width="1" height="11" fill="#f8504f"/>
<rect x="1283" y="586" width="1" height="3" fill="#06a66f"/>
<rect x="1285" y="584" width="1" height="14" fill="#f8504f"/>
<rect x="1286" y="593" width="1" height="25" fill="#f8504f"/>
<rect x="1287" y="600" width="1" height="46" fill="#06a66f"/>
<rect x="1288" y="606" width="1" height="12" fill="#06a66f"/>
<rect x="1289" y="603" width="1" height="7" fill="#06a66f"/>
<rect x="1290" y="594" width="1" height="24" fill="#f8504f"/>
<rect x="1291" y="600" width="1" height="14" fill="#f8504f"/>
<rect x="1293" y="594" width="1" height="22" fill="#06a66f"/>
<rect x="1294" y="589" width="1" height="16" fill="#06a66f"/>
<rect x="1295" y="594" width="1" height="3" fill="#f8504f"/>
<rect x="1296" y="587" width="1" height="10" fill="#06a66f"/>
<rect x="1297" y="589" width="1" height="6" fill="#f8504f"/>
<rect x="1298" y="593" width="1" height="5" fill="#06a66f"/>
<rect x="1299" y="581" width="1" height="13" fill="#06a66f"/>
<rect x="1301" y="582" width="1" height="5" fill="#06a66f"/>
<rect x="1302" y="583" width="1" height="3" fill="#f8504f"/>
<rect x="1303" y="572" width="1" height="13" fill="#06a66f"/>
<rect x="1304" y="563" width="1" height="22" fill="#06a66f"/>
<rect x="1305" y="563" width="1" height="5" fill="#f8504f"/>
<rect x="1306" y="564" width="1" height="5" fill="#f8504f"/>
<rect x="1308" y="552" width="1" height="16" fill="#06a66f"/>
<rect x="1309" y="555" width="1" height="13" fill="#f8504f"/>
<rect x="1310" y="557" width="1" height="8" fill="#06a66f"/>
<rect x="1311" y="555" width="1" height="5" fill="#f8504f"/>
<rect x="1312" y="558" width="1" height="4" fill="#06a66f"/>
<rect x="1313" y="558" width="1" height="5" fill="#f8504f"/>
<rect x="1314" y="560" width="1" height="9" fill="#f8504f"/>
<rect x="1316" y="558" width="1" height="12" fill="#06a66f"/>
<rect x="1317" y="558" width="1" height="8" fill="#06a66f"/>
<rect x="1318" y="563" width="1" height="3" fill="#f8504f"/>
<rect x="1319" y="568" width="1" height="22" fill="#f8504f"/>
<rect x="1320" y="573" width="1" height="23" fill="#06a66f"/>
<rect x="1321" y="584" width="1" height="7" fill="#f8504f"/>
<rect x="1322" y="597" width="1" height="16" fill="#f8504f"/>
<rect x="1324" y="604" width="1" height="15" fill="#06a66f"/>
<rect x="1325" y="610" width="1" height="3" fill="#f8504f"/>
<rect x="1326" y="616" width="1" height="14" fill="#f8504f"/>
<rect x="1327" y="623" width="1" height="10" fill="#06a66f"/>
<rect x="1328" y="625" width="1" height="8" fill="#f8504f"/>
<rect x="1329" y="621" width="1" height="16" fill="#f8504f"/>
<rect x="1330" y="624" width="1" height="8" fill="#06a66f"/>
<rect x="1332" y="621" width="1" height="7" fill="#06a66f"/>
<rect x="1333" y="617" width="1" height="10" fill="#06a66f"/>
<rect x="1334" y="616" width="1" height="14" fill="#06a66f"/>
<rect x="1335" y="618" width="1" height="17" fill="#f8504f"/>
<rect x="1336" y="628" width="1" height="5" fill="#06a66f"/>
<rect x="1337" y="629" width="1" height="9" fill="#f8504f"/>
<rect x="1338" y="629" width="1" height="16" fill="#f8504f"/>
<rect x="1340" y="636" width="1" height="12" fill="#f8504f"/>
<rect x="1341" y="645" width="1" height="9" fill="#f8504f"/>
<rect x="1342" y="648" width="1" height="39" fill="#06a66f"/>
<rect x="1343" y="642" width="1" height="17" fill="#06a66f"/>
<rect x="1344" y="634" width="1" height="11" fill="#06a66f"/>
<rect x="1345" y="632" width="1" height="14" fill="#f8504f"/>
<rect x="1347" y="616" width="1" height="26" fill="#06a66f"/>
<rect x="1348" y="611" width="1" height="21" fill="#f8504f"/>
<rect x="1349" y="611" width="1" height="15" fill="#06a66f"/>
<rect x="1350" y="602" width="1" height="24" fill="#06a66f"/>
<rect x="1351" y="597" width="1" height="20" fill="#f8504f"/>
<rect x="1352" y="600" width="1" height="11" fill="#06a66f"/>
<rect x="1353" y="586" width="1" height="18" fill="#06a66f"/>
<rect x="1355" y="589" width="1" height="8" fill="#06a66f"/>
<rect x="1356" y="585" width="1" height="6" fill="#06a66f"/>
<rect x="1357" y="545" width="1" height="38" fill="#06a66f"/>
<rect x="1358" y="582" width="1" height="5" fill="#06a66f"/>
<rect x="1359" y="575" width="1" height="23" fill="#06a66f"/>
<rect x="1360" y="580" width="1" height="20" fill="#f8504f"/>
<rect x="1361" y="586" width="1" height="13" fill="#06a66f"/>
<rect x="1363" y="576" width="1" height="24" fill="#06a66f"/>
<rect x="1364" y="576" width="1" height="18" fill="#f8504f"/>
<rect x="1365" y="589" width="1" height="12" fill="#f8504f"/>
<rect x="1366" y="586" width="1" height="12" fill="#06a66f"/>
<rect x="1367" y="580" width="1" height="18" fill="#f8504f"/>
<rect x="1368" y="587" width="1" height="9" fill="#06a66f"/>
<rect x="1369" y="582" width="1" height="11" fill="#06a66f"/>
<rect x="1371" y="582" width="1" height="14" fill="#f8504f"/>
<rect x="1372" y="589" width="1" height="6" fill="#06a66f"/>
<rect x="1373" y="572" width="1" height="22" fill="#06a66f"/>
<rect x="1374" y="580" width="1" height="21" fill="#f8504f"/>
<rect x="1375" y="579" width="1" height="19" fill="#06a66f"/>
<rect x="1376" y="577" width="1" height="23" fill="#f8504f"/>
<rect x="1377" y="579" width="1" height="24" fill="#06a66f"/>
<rect x="1379" y="573" width="1" height="10" fill="#06a66f"/>
<rect x="1380" y="554" width="1" height="26" fill="#06a66f"/>
<rect x="1381" y="540" width="1" height="34" fill="#06a66f"/>
<rect x="1382" y="530" width="1" height="42" fill="#06a66f"/>
<rect x="1383" y="528" width="1" height="14" fill="#f8504f"/>
<rect x="1384" y="501" width="1" height="34" fill="#06a66f"/>
<rect x="1385" y="526" width="1" height="17" fill="#f8504f"/>
<rect x="1387" y="528" width="1" height="23" fill="#06a66f"/>
<rect x="1388" y="527" width="1" height="13" fill="#f8504f"/>
<rect x="1389" y="539" width="1" height="9" fill="#f8504f"/>
<rect x="1390" y="554" width="1" height="33" fill="#f8504f"/>
<rect x="1391" y="578" width="1" height="19" fill="#f8504f"/>
<rect x="1392" y="588" width="1" height="12" fill="#f8504f"/>
<rect x="1394" y="580" width="1" height="19" fill="#06a66f"/>
<rect x="1395" y="585" width="1" height="12" fill="#f8504f"/>
<rect x="1396" y="584" width="1" height="14" fill="#06a66f"/>
<rect x="1397" y="583" width="1" height="6" fill="#f8504f"/>
<rect x="1398" y="584" width="1" height="20" fill="#f8504f"/>
<rect x="1399" y="589" width="1" height="14" fill="#f8504f"/>
<rect x="1400" y="585" width="1" height="14" fill="#06a66f"/>
<rect x="1402" y="590" width="1" height="5" fill="#06a66f"/>
<rect x="1403" y="579" width="1" height="13" fill="#06a66f"/>
<rect x="1404" y="576" width="1" height="24" fill="#f8504f"/>
<rect x="1405" y="585" width="1" height="24" fill="#f8504f"/>
<rect x="1406" y="583" width="1" height="17" fill="#06a66f"/>
<rect x="1407" y="584" width="1" height="12" fill="#f8504f"/>
<rect x="1408" y="594" width="1" height="5" fill="#f8504f"/>
<rect x="1410" y="587" width="1" height="11" fill="#06a66f"/>
<rect x="1411" y="593" width="1" height="6" fill="#f8504f"/>
<rect x="1412" y="597" width="1" height="5" fill="#06a66f"/>
<rect x="1413" y="592" width="1" height="17" fill="#f8504f"/>
<rect x="1414" y="592" width="1" height="17" fill="#06a66f"/>
<rect x="1415" y="597" width="1" height="9" fill="#06a66f"/>
<rect x="1416" y="586" width="1" height="16" fill="#06a66f"/>
<rect x="1418" y="579" width="1" height="7" fill="#06a66f"/>
<rect x="1419" y="579" width="1" height="14" fill="#f8504f"/>
<rect x="1420" y="586" width="1" height="3" fill="#06a66f"/>
<rect x="1421" y="585" width="1" height="15" fill="#f8504f"/>
<rect x="1422" y="593" width="1" height="11" fill="#f8504f"/>
<rect x="1423" y="600" width="1" height="12" fill="#f8504f"/>
<rect x="1424" y="609" width="1" height="6" fill="#06a66f"/>
<rect x="1426" y="611" width="1" height="16" fill="#f8504f"/>
<rect x="1427" y="614" width="1" height="11" fill="#f8504f"/>
<rect x="1428" y="622" width="1" height="3" fill="#06a66f"/>
<rect x="1429" y="614" width="1" height="11" fill="#06a66f"/>
<rect x="1430" y="611" width="1" height="7" fill="#06a66f"/>
<rect x="1431" y="607" width="1" height="8" fill="#f8504f"/>
<rect x="1433" y="612" width="1" height="12" fill="#f8504f"/>
<rect x="1434" y="618" width="1" height="3" fill="#06a66f"/>
<rect x="1435" y="613" width="1" height="9" fill="#f8504f"/>
<rect x="1436" y="614" width="1" height="8" fill="#06a66f"/>
<rect x="1437" y="614" width="1" height="10" fill="#f8504f"/>
<rect x="1438" y="619" width="1" height="4" fill="#f8504f"/>
<rect x="1439" y="620" width="1" height="6" fill="#f8504f"/>
<rect x="1441" y="618" width="1" height="9" fill="#f8504f"/>
<rect x="1442" y="620" width="1" height="10" fill="#f8504f"/>
<rect x="1443" y="626" width="1" height="8" fill="#f8504f"/>
<rect x="1444" y="625" width="1" height="9" fill="#06a66f"/>
<rect x="1445" y="622" width="1" height="6" fill="#f8504f"/>
<rect x="1446" y="619" width="1" height="12" fill="#06a66f"/>
<rect x="1447" y="621" width="1" height="9" fill="#f8504f"/>
<rect x="1449" y="625" width="1" height="4" fill="#f8504f"/>
<rect x="1450" y="620" width="1" height="9" fill="#06a66f"/>
<rect x="1451" y="622" width="1" height="5" fill="#f8504f"/>
<rect x="1452" y="624" width="1" height="3" fill="#f8504f"/>
<rect x="1453" y="623" width="1" height="11" fill="#f8504f"/>
<rect x="1454" y="625" width="1" height="17" fill="#f8504f"/>
<rect x="1455" y="631" width="1" height="10" fill="#06a66f"/>
<rect x="1457" y="635" width="1" height="17" fill="#f8504f"/>
<rect x="1458" y="638" width="1" height="51" fill="#f8504f"/>
<rect x="1459" y="646" width="1" height="75" fill="#f8504f"/>
<rect x="1460" y="647" width="1" height="29" fill="#06a66f"/>
<rect x="1461" y="649" width="1" height="8" fill="#06a66f"/>
<rect x="1462" y="637" width="1" height="13" fill="#06a66f"/>
<rect x="1463" y="628" width="1" height="16" fill="#06a66f"/>
<rect x="1465" y="624" width="1" height="9" fill="#06a66f"/>
<rect x="1466" y="622" width="1" height="5" fill="#f8504f"/>
<rect x="1467" y="626" width="1" height="12" fill="#f8504f"/>
<rect x="1468" y="630" width="1" height="8" fill="#06a66f"/>
<rect x="1469" y="629" width="1" height="10" fill="#f8504f"/>
<rect x="1470" y="628" width="1" height="13" fill="#06a66f"/>
<rect x="1472" y="633" width="1" height="5" fill="#f8504f"/>
<rect x="1473" y="638" width="1" height="3" fill="#06a66f"/>
<rect x="1474" y="644" width="1" height="20" fill="#f8504f"/>
<rect x="1475" y="650" width="1" height="14" fill="#06a66f"/>
<rect x="1476" y="650" width="1" height="8" fill="#06a66f"/>
<rect x="1477" y="641" width="1" height="14" fill="#06a66f"/>
<rect x="1478" y="638" width="1" height="8" fill="#06a66f"/>
<rect x="1480" y="638" width="1" height="4" fill="#06a66f"/>
<rect x="2" y="754" width="1" height="1" fill="#f8504f"/><rect x="5" y="754" width="1" height="1" fill="#f8504f"/><rect x="8" y="754" width="1" height="1" fill="#f8504f"/><rect x="11" y="754" width="1" height="1" fill="#f8504f"/><rect x="14" y="754" width="1" height="1" fill="#f8504f"/><rect x="17" y="754" width="1" height="1" fill="#f8504f"/><rect x="20" y="754" width="1" height="1" fill="#f8504f"/><rect x="23" y="754" width="1" height="1" fill="#f8504f"/><rect x="26" y="754" width="1" height="1" fill="#f8504f"/><rect x="29" y="754" width="1" height="1" fill="#f8504f"/><rect x="32" y="754" width="1" height="1" fill="#f8504f"/><rect x="35" y="754" width="1" height="1" fill="#f8504f"/><rect x="38" y="754" width="1" height="1" fill="#f8504f"/><rect x="41" y="754" width="1" height="1" fill="#f8504f"/><rect x="44" y="754" width="1" height="1" fill="#f8504f"/><rect x="47" y="754" width="1" height="1" fill="#f8504f"/><rect x="50" y="754" width="1" height="1" fill="#f8504f"/><rect x="53" y="754" width="1" height="1" fill="#f8504f"/><rect x="56" y="754" width="1" height="1" fill="#f8504f"/><rect x="59" y="754" width="1" height="1" fill="#f8504f"/><rect x="62" y="754" width="1" height="1" fill="#f8504f"/><rect x="65" y="754" width="1" height="1" fill="#f8504f"/><rect x="68" y="754" width="1" height="1" fill="#f8504f"/><rect x="71" y="754" width="1" height="1" fill="#f8504f"/><rect x="74" y="754" width="1" height="1" fill="#f8504f"/><rect x="77" y="754" width="1" height="1" fill="#f8504f"/><rect x="80" y="754" width="1" height="1" fill="#f8504f"/><rect x="83" y="754" width="1" height="1" fill="#f8504f"/><rect x="86" y="754" width="1" height="1" fill="#f8504f"/><rect x="89" y="754" width="1" height="1" fill="#f8504f"/><rect x="92" y="754" width="1" height="1" fill="#f8504f"/><rect x="95" y="754" width="1" height="1" fill="#f8504f"/><rect x="98" y="754" width="1" height="1" fill="#f8504f"/><rect x="101" y="754" width="1" height="1" fill="#f8504f"/><rect x="104" y="754" width="1" height="1" fill="#f8504f"/><rect x="107" y="754" width="1" height="1" fill="#f8504f"/><rect x="110" y="754" width="1" height="1" fill="#f8504f"/><rect x="113" y="754" width="1" height="1" fill="#f8504f"/><rect x="116" y="754" width="1" height="1" fill="#f8504f"/><rect x="119" y="754" width="1" height="1" fill="#f8504f"/><rect x="122" y="754" width="1" height="1" fill="#f8504f"/><rect x="125" y="754" width="1" height="1" fill="#f8504f"/><rect x="128" y="754" width="1" height="1" fill="#f8504f"/><rect x="131" y="754" width="1" height="1" fill="#f8504f"/><rect x="134" y="754" width="1" height="1" fill="#f8504f"/><rect x="137" y="754" width="1" height="1" fill="#f8504f"/><rect x="140" y="754" width="1" height="1" fill="#f8504f"/><rect x="143" y="754" width="1" height="1" fill="#f8504f"/><rect x="146" y="754" width="1" height="1" fill="#f8504f"/><rect x="149" y="754" width="1" height="1" fill="#f8504f"/><rect x="152" y="754" width="1" height="1" fill="#f8504f"/><rect x="155" y="754" width="1" height="1" fill="#f8504f"/><rect x="158" y="754" width="1" height="1" fill="#f8504f"/><rect x="161" y="754" width="1" height="1" fill="#f8504f"/><rect x="164" y="754" width="1" height="1" fill="#f8504f"/><rect x="167" y="754" width="1" height="1" fill="#f8504f"/><rect x="170" y="754" width="1" height="1" fill="#f8504f"/><rect x="173" y="754" width="1" height="1" fill="#f8504f"/><rect x="176" y="754" width="1" height="1" fill="#f8504f"/><rect x="179" y="754" width="1" height="1" fill="#f8504f"/><rect x="182" y="754" width="1" height="1" fill="#f8504f"/><rect x="185" y="754" width="1" height="1" fill="#f8504f"/><rect x="188" y="754" width="1" height="1" fill="#f8504f"/><rect x="191" y="754" width="1" height="1" fill="#f8504f"/><rect x="194" y="754" width="1" height="1" fill="#f8504f"/><rect x="197" y="754" width="1" height="1" fill="#f8504f"/><rect x="200" y="754" width="1" height="1" fill="#f8504f"/><rect x="203" y="754" width="1" height="1" fill="#f8504f"/><rect x="206" y="754" width="1" height="1" fill="#f8504f"/><rect x="209" y="754" width="1" height="1" fill="#f8504f"/><rect x="212" y="754" width="1" height="1" fill="#f8504f"/><rect x="215" y="754" width="1" height="1" fill="#f8504f"/><rect x="218" y="754" width="1" height="1" fill="#f8504f"/><rect x="221" y="754" width="1" height="1" fill="#f8504f"/><rect x="224" y="754" width="1" height="1" fill="#f8504f"/><rect x="227" y="754" width="1" height="1" fill="#f8504f"/><rect x="230" y="754" width="1" height="1" fill="#f8504f"/><rect x="233" y="754" width="1" height="1" fill="#f8504f"/><rect x="236" y="754" width="1" height="1" fill="#f8504f"/><rect x="239" y="754" width="1" height="1" fill="#f8504f"/><rect x="242" y="754" width="1" height="1" fill="#f8504f"/><rect x="245" y="754" width="1" height="1" fill="#f8504f"/><rect x="248" y="754" width="1" height="1" fill="#f8504f"/><rect x="251" y="754" width="1" height="1" fill="#f8504f"/><rect x="254" y="754" width="1" height="1" fill="#f8504f"/><rect x="257" y="754" width="1" height="1" fill="#f8504f"/><rect x="260" y="754" width="1" height="1" fill="#f8504f"/><rect x="263" y="754" width="1" height="1" fill="#f8504f"/><rect x="266" y="754" width="1" height="1" fill="#f8504f"/><rect x="269" y="754" width="1" height="1" fill="#f8504f"/><rect x="272" y="754" width="1" height="1" fill="#f8504f"/><rect x="275" y="754" width="1" height="1" fill="#f8504f"/><rect x="278" y="754" width="1" height="1" fill="#f8504f"/><rect x="281" y="754" width="1" height="1" fill="#f8504f"/><rect x="284" y="754" width="1" height="1" fill="#f8504f"/><rect x="287" y="754" width="1" height="1" fill="#f8504f"/><rect x="290" y="754" width="1" height="1" fill="#f8504f"/><rect x="293" y="754" width="1" height="1" fill="#f8504f"/><rect x="296" y="754" width="1" height="1" fill="#f8504f"/><rect x="299" y="754" width="1" height="1" fill="#f8504f"/><rect x="302" y="754" width="1" height="1" fill="#f8504f"/><rect x="305" y="754" width="1" height="1" fill="#f8504f"/><rect x="308" y="754" width="1" height="1" fill="#f8504f"/><rect x="311" y="754" width="1" height="1" fill="#f8504f"/><rect x="314" y="754" width="1" height="1" fill="#f8504f"/><rect x="317" y="754" width="1" height="1" fill="#f8504f"/><rect x="320" y="754" width="1" height="1" fill="#f8504f"/><rect x="323" y="754" width="1" height="1" fill="#f8504f"/><rect x="326" y="754" width="1" height="1" fill="#f8504f"/><rect x="329" y="754" width="1" height="1" fill="#f8504f"/><rect x="332" y="754" width="1" height="1" fill="#f8504f"/><rect x="335" y="754" width="1" height="1" fill="#f8504f"/><rect x="338" y="754" width="1" height="1" fill="#f8504f"/><rect x="341" y="754" width="1" height="1" fill="#f8504f"/><rect x="344" y="754" width="1" height="1" fill="#f8504f"/><rect x="347" y="754" width="1" height="1" fill="#f8504f"/><rect x="350" y="754" width="1" height="1" fill="#f8504f"/><rect x="353" y="754" width="1" height="1" fill="#f8504f"/><rect x="356" y="754" width="1" height="1" fill="#f8504f"/><rect x="359" y="754" width="1" height="1" fill="#f8504f"/><rect x="362" y="754" width="1" height="1" fill="#f8504f"/><rect x="365" y="754" width="1" height="1" fill="#f8504f"/><rect x="368" y="754" width="1" height="1" fill="#f8504f"/><rect x="371" y="754" width="1" height="1" fill="#f8504f"/><rect x="374" y="754" width="1" height="1" fill="#f8504f"/><rect x="377" y="754" width="1" height="1" fill="#f8504f"/><rect x="380" y="754" width="1" height="1" fill="#f8504f"/><rect x="383" y="754" width="1" height="1" fill="#f8504f"/><rect x="386" y="754" width="1" height="1" fill="#f8504f"/><rect x="389" y="754" width="1" height="1" fill="#f8504f"/><rect x="392" y="754" width="1" height="1" fill="#f8504f"/><rect x="395" y="754" width="1" height="1" fill="#f8504f"/><rect x="398" y="754" width="1" height="1" fill="#f8504f"/><rect x="401" y="754" width="1" height="1" fill="#f8504f"/><rect x="404" y="754" width="1" height="1" fill="#f8504f"/><rect x="407" y="754" width="1" height="1" fill="#f8504f"/><rect x="410" y="754" width="1" height="1" fill="#f8504f"/><rect x="413" y="754" width="1" height="1" fill="#f8504f"/><rect x="416" y="754" width="1" height="1" fill="#f8504f"/><rect x="419" y="754" width="1" height="1" fill="#f8504f"/><rect x="422" y="754" width="1" height="1" fill="#f8504f"/><rect x="425" y="754" width="1" height="1" fill="#f8504f"/><rect x="428" y="754" width="1" height="1" fill="#f8504f"/><rect x="431" y="754" width="1" height="1" fill="#f8504f"/><rect x="434" y="754" width="1" height="1" fill="#f8504f"/><rect x="437" y="754" width="1" height="1" fill="#f8504f"/><rect x="440" y="754" width="1" height="1" fill="#f8504f"/><rect x="443" y="754" width="1" height="1" fill="#f8504f"/><rect x="446" y="754" width="1" height="1" fill="#f8504f"/><rect x="449" y="754" width="1" height="1" fill="#f8504f"/><rect x="452" y="754" width="1" height="1" fill="#f8504f"/><rect x="455" y="754" width="1" height="1" fill="#f8504f"/><rect x="458" y="754" width="1" height="1" fill="#f8504f"/><rect x="461" y="754" width="1" height="1" fill="#f8504f"/><rect x="464" y="754" width="1" height="1" fill="#f8504f"/><rect x="467" y="754" width="1" height="1" fill="#f8504f"/><rect x="470" y="754" width="1" height="1" fill="#f8504f"/><rect x="473" y="754" width="1" height="1" fill="#f8504f"/><rect x="476" y="754" width="1" height="1" fill="#f8504f"/><rect x="479" y="754" width="1" height="1" fill="#f8504f"/><rect x="482" y="754" width="1" height="1" fill="#f8504f"/><rect x="485" y="754" width="1" height="1" fill="#f8504f"/><rect x="488" y="754" width="1" height="1" fill="#f8504f"/><rect x="491" y="754" width="1" height="1" fill="#f8504f"/><rect x="494" y="754" width="1" height="1" fill="#f8504f"/><rect x="497" y="754" width="1" height="1" fill="#f8504f"/><rect x="500" y="754" width="1" height="1" fill="#f8504f"/><rect x="503" y="754" width="1" height="1" fill="#f8504f"/><rect x="506" y="754" width="1" height="1" fill="#f8504f"/><rect x="509" y="754" width="1" height="1" fill="#f8504f"/><rect x="512" y="754" width="1" height="1" fill="#f8504f"/><rect x="515" y="754" width="1" height="1" fill="#f8504f"/><rect x="518" y="754" width="1" height="1" fill="#f8504f"/><rect x="521" y="754" width="1" height="1" fill="#f8504f"/><rect x="524" y="754" width="1" height="1" fill="#f8504f"/><rect x="527" y="754" width="1" height="1" fill="#f8504f"/><rect x="530" y="754" width="1" height="1" fill="#f8504f"/><rect x="533" y="754" width="1" height="1" fill="#f8504f"/><rect x="536" y="754" width="1" height="1" fill="#f8504f"/><rect x="539" y="754" width="1" height="1" fill="#f8504f"/><rect x="542" y="754" width="1" height="1" fill="#f8504f"/><rect x="545" y="754" width="1" height="1" fill="#f8504f"/><rect x="548" y="754" width="1" height="1" fill="#f8504f"/><rect x="551" y="754" width="1" height="1" fill="#f8504f"/><rect x="554" y="754" width="1" height="1" fill="#f8504f"/><rect x="557" y="754" width="1" height="1" fill="#f8504f"/><rect x="560" y="754" width="1" height="1" fill="#f8504f"/><rect x="563" y="754" width="1" height="1" fill="#f8504f"/><rect x="566" y="754" width="1" height="1" fill="#f8504f"/><rect x="569" y="754" width="1" height="1" fill="#f8504f"/><rect x="572" y="754" width="1" height="1" fill="#f8504f"/><rect x="575" y="754" width="1" height="1" fill="#f8504f"/><rect x="578" y="754" width="1" height="1" fill="#f8504f"/><rect x="581" y="754" width="1" height="1" fill="#f8504f"/><rect x="584" y="754" width="1" height="1" fill="#f8504f"/><rect x="587" y="754" width="1" height="1" fill="#f8504f"/><rect x="590" y="754" width="1" height="1" fill="#f8504f"/><rect x="593" y="754" width="1" height="1" fill="#f8504f"/><rect x="596" y="754" width="1" height="1" fill="#f8504f"/><rect x="599" y="754" width="1" height="1" fill="#f8504f"/><rect x="602" y="754" width="1" height="1" fill="#f8504f"/><rect x="605" y="754" width="1" height="1" fill="#f8504f"/><rect x="608" y="754" width="1" height="1" fill="#f8504f"/><rect x="611" y="754" width="1" height="1" fill="#f8504f"/><rect x="614" y="754" width="1" height="1" fill="#f8504f"/><rect x="617" y="754" width="1" height="1" fill="#f8504f"/><rect x="620" y="754" width="1" height="1" fill="#f8504f"/><rect x="623" y="754" width="1" height="1" fill="#f8504f"/><rect x="626" y="754" width="1" height="1" fill="#f8504f"/><rect x="629" y="754" width="1" height="1" fill="#f8504f"/><rect x="632" y="754" width="1" height="1" fill="#f8504f"/><rect x="635" y="754" width="1" height="1" fill="#f8504f"/><rect x="638" y="754" width="1" height="1" fill="#f8504f"/><rect x="641" y="754" width="1" height="1" fill="#f8504f"/><rect x="644" y="754" width="1" height="1" fill="#f8504f"/><rect x="647" y="754" width="1" height="1" fill="#f8504f"/><rect x="650" y="754" width="1" height="1" fill="#f8504f"/><rect x="653" y="754" width="1" height="1" fill="#f8504f"/><rect x="656" y="754" width="1" height="1" fill="#f8504f"/><rect x="659" y="754" width="1" height="1" fill="#f8504f"/><rect x="662" y="754" width="1" height="1" fill="#f8504f"/><rect x="665" y="754" width="1" height="1" fill="#f8504f"/><rect x="668" y="754" width="1" height="1" fill="#f8504f"/><rect x="671" y="754" width="1" height="1" fill="#f8504f"/><rect x="674" y="754" width="1" height="1" fill="#f8504f"/><rect x="677" y="754" width="1" height="1" fill="#f8504f"/><rect x="680" y="754" width="1" height="1" fill="#f8504f"/><rect x="683" y="754" width="1" height="1" fill="#f8504f"/><rect x="686" y="754" width="1" height="1" fill="#f8504f"/><rect x="689" y="754" width="1" height="1" fill="#f8504f"/><rect x="692" y="754" width="1" height="1" fill="#f8504f"/><rect x="695" y="754" width="1" height="1" fill="#f8504f"/><rect x="698" y="754" width="1" height="1" fill="#f8504f"/><rect x="701" y="754" width="1" height="1" fill="#f8504f"/><rect x="704" y="754" width="1" height="1" fill="#f8504f"/><rect x="707" y="754" width="1" height="1" fill="#f8504f"/><rect x="710" y="754" width="1" height="1" fill="#f8504f"/><rect x="713" y="754" width="1" height="1" fill="#f8504f"/><rect x="716" y="754" width="1" height="1" fill="#f8504f"/><rect x="719" y="754" width="1" height="1" fill="#f8504f"/><rect x="722" y="754" width="1" height="1" fill="#f8504f"/><rect x="725" y="754" width="1" height="1" fill="#f8504f"/><rect x="728" y="754" width="1" height="1" fill="#f8504f"/><rect x="731" y="754" width="1" height="1" fill="#f8504f"/><rect x="734" y="754" width="1" height="1" fill="#f8504f"/><rect x="737" y="754" width="1" height="1" fill="#f8504f"/><rect x="740" y="754" width="1" height="1" fill="#f8504f"/><rect x="743" y="754" width="1" height="1" fill="#f8504f"/><rect x="746" y="754" width="1" height="1" fill="#f8504f"/><rect x="749" y="754" width="1" height="1" fill="#f8504f"/><rect x="752" y="754" width="1" height="1" fill="#f8504f"/><rect x="755" y="754" width="1" height="1" fill="#f8504f"/><rect x="758" y="754" width="1" height="1" fill="#f8504f"/><rect x="761" y="754" width="1" height="1" fill="#f8504f"/><rect x="764" y="754" width="1" height="1" fill="#f8504f"/><rect x="767" y="754" width="1" height="1" fill="#f8504f"/><rect x="770" y="754" width="1" height="1" fill="#f8504f"/><rect x="773" y="754" width="1" height="1" fill="#f8504f"/><rect x="776" y="754" width="1" height="1" fill="#f8504f"/><rect x="779" y="754" width="1" height="1" fill="#f8504f"/><rect x="782" y="754" width="1" height="1" fill="#f8504f"/><rect x="785" y="754" width="1" height="1" fill="#f8504f"/><rect x="788" y="754" width="1" height="1" fill="#f8504f"/><rect x="791" y="754" width="1" height="1" fill="#f8504f"/><rect x="794" y="754" width="1" height="1" fill="#f8504f"/><rect x="797" y="754" width="1" height="1" fill="#f8504f"/><rect x="800" y="754" width="1" height="1" fill="#f8504f"/><rect x="803" y="754" width="1" height="1" fill="#f8504f"/><rect x="806" y="754" width="1" height="1" fill="#f8504f"/><rect x="809" y="754" width="1" height="1" fill="#f8504f"/><rect x="812" y="754" width="1" height="1" fill="#f8504f"/><rect x="815" y="754" width="1" height="1" fill="#f8504f"/><rect x="818" y="754" width="1" height="1" fill="#f8504f"/><rect x="821" y="754" width="1" height="1" fill="#f8504f"/><rect x="824" y="754" width="1" height="1" fill="#f8504f"/><rect x="827" y="754" width="1" height="1" fill="#f8504f"/><rect x="830" y="754" width="1" height="1" fill="#f8504f"/><rect x="833" y="754" width="1" height="1" fill="#f8504f"/><rect x="836" y="754" width="1" height="1" fill="#f8504f"/><rect x="839" y="754" width="1" height="1" fill="#f8504f"/><rect x="842" y="754" width="1" height="1" fill="#f8504f"/><rect x="845" y="754" width="1" height="1" fill="#f8504f"/><rect x="848" y="754" width="1" height="1" fill="#f8504f"/><rect x="851" y="754" width="1" height="1" fill="#f8504f"/><rect x="854" y="754" width="1" height="1" fill="#f8504f"/><rect x="857" y="754" width="1" height="1" fill="#f8504f"/><rect x="860" y="754" width="1" height="1" fill="#f8504f"/><rect x="863" y="754" width="1" height="1" fill="#f8504f"/><rect x="866" y="754" width="1" height="1" fill="#f8504f"/><rect x="869" y="754" width="1" height="1" fill="#f8504f"/><rect x="872" y="754" width="1" height="1" fill="#f8504f"/><rect x="875" y="754" width="1" height="1" fill="#f8504f"/><rect x="878" y="754" width="1" height="1" fill="#f8504f"/><rect x="881" y="754" width="1" height="1" fill="#f8504f"/><rect x="884" y="754" width="1" height="1" fill="#f8504f"/><rect x="887" y="754" width="1" height="1" fill="#f8504f"/><rect x="890" y="754" width="1" height="1" fill="#f8504f"/><rect x="893" y="754" width="1" height="1" fill="#f8504f"/><rect x="896" y="754" width="1" height="1" fill="#f8504f"/><rect x="899" y="754" width="1" height="1" fill="#f8504f"/><rect x="902" y="754" width="1" height="1" fill="#f8504f"/><rect x="905" y="754" width="1" height="1" fill="#f8504f"/><rect x="908" y="754" width="1" height="1" fill="#f8504f"/><rect x="911" y="754" width="1" height="1" fill="#f8504f"/><rect x="914" y="754" width="1" height="1" fill="#f8504f"/><rect x="917" y="754" width="1" height="1" fill="#f8504f"/><rect x="920" y="754" width="1" height="1" fill="#f8504f"/><rect x="923" y="754" width="1" height="1" fill="#f8504f"/><rect x="926" y="754" width="1" height="1" fill="#f8504f"/><rect x="929" y="754" width="1" height="1" fill="#f8504f"/><rect x="932" y="754" width="1" height="1" fill="#f8504f"/><rect x="935" y="754" width="1" height="1" fill="#f8504f"/><rect x="938" y="754" width="1" height="1" fill="#f8504f"/><rect x="941" y="754" width="1" height="1" fill="#f8504f"/><rect x="944" y="754" width="1" height="1" fill="#f8504f"/><rect x="947" y="754" width="1" height="1" fill="#f8504f"/><rect x="950" y="754" width="1" height="1" fill="#f8504f"/><rect x="953" y="754" width="1" height="1" fill="#f8504f"/><rect x="956" y="754" width="1" height="1" fill="#f8504f"/><rect x="959" y="754" width="1" height="1" fill="#f8504f"/><rect x="962" y="754" width="1" height="1" fill="#f8504f"/><rect x="965" y="754" width="1" height="1" fill="#f8504f"/><rect x="968" y="754" width="1" height="1" fill="#f8504f"/><rect x="971" y="754" width="1" height="1" fill="#f8504f"/><rect x="974" y="754" width="1" height="1" fill="#f8504f"/><rect x="977" y="754" width="1" height="1" fill="#f8504f"/><rect x="980" y="754" width="1" height="1" fill="#f8504f"/><rect x="983" y="754" width="1" height="1" fill="#f8504f"/><rect x="986" y="754" width="1" height="1" fill="#f8504f"/><rect x="989" y="754" width="1" height="1" fill="#f8504f"/><rect x="992" y="754" width="1" height="1" fill="#f8504f"/><rect x="995" y="754" width="1" height="1" fill="#f8504f"/><rect x="998" y="754" width="1" height="1" fill="#f8504f"/><rect x="1001" y="754" width="1" height="1" fill="#f8504f"/><rect x="1004" y="754" width="1" height="1" fill="#f8504f"/><rect x="1007" y="754" width="1" height="1" fill="#f8504f"/><rect x="1010" y="754" width="1" height="1" fill="#f8504f"/><rect x="1013" y="754" width="1" height="1" fill="#f8504f"/><rect x="1016" y="754" width="1" height="1" fill="#f8504f"/><rect x="1019" y="754" width="1" height="1" fill="#f8504f"/><rect x="1022" y="754" width="1" height="1" fill="#f8504f"/><rect x="1025" y="754" width="1" height="1" fill="#f8504f"/><rect x="1028" y="754" width="1" height="1" fill="#f8504f"/><rect x="1031" y="754" width="1" height="1" fill="#f8504f"/><rect x="1034" y="754" width="1" height="1" fill="#f8504f"/><rect x="1037" y="754" width="1" height="1" fill="#f8504f"/><rect x="1040" y="754" width="1" height="1" fill="#f8504f"/><rect x="1043" y="754" width="1" height="1" fill="#f8504f"/><rect x="1046" y="754" width="1" height="1" fill="#f8504f"/><rect x="1049" y="754" width="1" height="1" fill="#f8504f"/><rect x="1052" y="754" width="1" height="1" fill="#f8504f"/><rect x="1055" y="754" width="1" height="1" fill="#f8504f"/><rect x="1058" y="754" width="1" height="1" fill="#f8504f"/><rect x="1061" y="754" width="1" height="1" fill="#f8504f"/><rect x="1064" y="754" width="1" height="1" fill="#f8504f"/><rect x="1067" y="754" width="1" height="1" fill="#f8504f"/><rect x="1070" y="754" width="1" height="1" fill="#f8504f"/><rect x="1073" y="754" width="1" height="1" fill="#f8504f"/><rect x="1076" y="754" width="1" height="1" fill="#f8504f"/><rect x="1079" y="754" width="1" height="1" fill="#f8504f"/><rect x="1082" y="754" width="1" height="1" fill="#f8504f"/><rect x="1085" y="754" width="1" height="1" fill="#f8504f"/><rect x="1088" y="754" width="1" height="1" fill="#f8504f"/><rect x="1091" y="754" width="1" height="1" fill="#f8504f"/><rect x="1094" y="754" width="1" height="1" fill="#f8504f"/><rect x="1097" y="754" width="1" height="1" fill="#f8504f"/><rect x="1100" y="754" width="1" height="1" fill="#f8504f"/><rect x="1103" y="754" width="1" height="1" fill="#f8504f"/><rect x="1106" y="754" width="1" height="1" fill="#f8504f"/><rect x="1109" y="754" width="1" height="1" fill="#f8504f"/><rect x="1112" y="754" width="1" height="1" fill="#f8504f"/><rect x="1115" y="754" width="1" height="1" fill="#f8504f"/><rect x="1118" y="754" width="1" height="1" fill="#f8504f"/><rect x="1121" y="754" width="1" height="1" fill="#f8504f"/><rect x="1124" y="754" width="1" height="1" fill="#f8504f"/><rect x="1127" y="754" width="1" height="1" fill="#f8504f"/><rect x="1130" y="754" width="1" height="1" fill="#f8504f"/><rect x="1133" y="754" width="1" height="1" fill="#f8504f"/><rect x="1136" y="754" width="1" height="1" fill="#f8504f"/><rect x="1139" y="754" width="1" height="1" fill="#f8504f"/><rect x="1142" y="754" width="1" height="1" fill="#f8504f"/><rect x="1145" y="754" width="1" height="1" fill="#f8504f"/><rect x="1148" y="754" width="1" height="1" fill="#f8504f"/><rect x="1151" y="754" width="1" height="1" fill="#f8504f"/><rect x="1154" y="754" width="1" height="1" fill="#f8504f"/><rect x="1157" y="754" width="1" height="1" fill="#f8504f"/><rect x="1160" y="754" width="1" height="1" fill="#f8504f"/><rect x="1163" y="754" width="1" height="1" fill="#f8504f"/><rect x="1166" y="754" width="1" height="1" fill="#f8504f"/><rect x="1169" y="754" width="1" height="1" fill="#f8504f"/><rect x="1172" y="754" width="1" height="1" fill="#f8504f"/><rect x="1175" y="754" width="1" height="1" fill="#f8504f"/><rect x="1178" y="754" width="1" height="1" fill="#f8504f"/><rect x="1181" y="754" width="1" height="1" fill="#f8504f"/><rect x="1184" y="754" width="1" height="1" fill="#f8504f"/><rect x="1187" y="754" width="1" height="1" fill="#f8504f"/><rect x="1190" y="754" width="1" height="1" fill="#f8504f"/><rect x="1193" y="754" width="1" height="1" fill="#f8504f"/><rect x="1196" y="754" width="1" height="1" fill="#f8504f"/><rect x="1199" y="754" width="1" height="1" fill="#f8504f"/><rect x="1202" y="754" width="1" height="1" fill="#f8504f"/><rect x="1205" y="754" width="1" height="1" fill="#f8504f"/><rect x="1208" y="754" width="1" height="1" fill="#f8504f"/><rect x="1211" y="754" width="1" height="1" fill="#f8504f"/><rect x="1214" y="754" width="1" height="1" fill="#f8504f"/><rect x="1217" y="754" width="1" height="1" fill="#f8504f"/><rect x="1220" y="754" width="1" height="1" fill="#f8504f"/><rect x="1223" y="754" width="1" height="1" fill="#f8504f"/><rect x="1226" y="754" width="1" height="1" fill="#f8504f"/><rect x="1229" y="754" width="1" height="1" fill="#f8504f"/><rect x="1232" y="754" width="1" height="1" fill="#f8504f"/><rect x="1235" y="754" width="1" height="1" fill="#f8504f"/><rect x="1238" y="754" width="1" height="1" fill="#f8504f"/><rect x="1241" y="754" width="1" height="1" fill="#f8504f"/><rect x="1244" y="754" width="1" height="1" fill="#f8504f"/><rect x="1247" y="754" width="1" height="1" fill="#f8504f"/><rect x="1250" y="754" width="1" height="1" fill="#f8504f"/><rect x="1253" y="754" width="1" height="1" fill="#f8504f"/><rect x="1256" y="754" width="1" height="1" fill="#f8504f"/><rect x="1259" y="754" width="1" height="1" fill="#f8504f"/><rect x="1262" y="754" width="1" height="1" fill="#f8504f"/><rect x="1265" y="754" width="1" height="1" fill="#f8504f"/><rect x="1268" y="754" width="1" height="1" fill="#f8504f"/><rect x="1271" y="754" width="1" height="1" fill="#f8504f"/><rect x="1274" y="754" width="1" height="1" fill="#f8504f"/><rect x="1277" y="754" width="1" height="1" fill="#f8504f"/><rect x="1280" y="754" width="1" height="1" fill="#f8504f"/><rect x="1283" y="754" width="1" height="1" fill="#f8504f"/><rect x="1286" y="754" width="1" height="1" fill="#f8504f"/><rect x="1289" y="754" width="1" height="1" fill="#f8504f"/><rect x="1292" y="754" width="1" height="1" fill="#f8504f"/><rect x="1295" y="754" width="1" height="1" fill="#f8504f"/><rect x="1298" y="754" width="1" height="1" fill="#f8504f"/><rect x="1301" y="754" width="1" height="1" fill="#f8504f"/><rect x="1304" y="754" width="1" height="1" fill="#f8504f"/><rect x="1307" y="754" width="1" height="1" fill="#f8504f"/><rect x="1310" y="754" width="1" height="1" fill="#f8504f"/><rect x="1313" y="754" width="1" height="1" fill="#f8504f"/><rect x="1316" y="754" width="1" height="1" fill="#f8504f"/><rect x="1319" y="754" width="1" height="1" fill="#f8504f"/><rect x="1322" y="754" width="1" height="1" fill="#f8504f"/><rect x="1325" y="754" width="1" height="1" fill="#f8504f"/><rect x="1328" y="754" width="1" height="1" fill="#f8504f"/><rect x="1331" y="754" width="1" height="1" fill="#f8504f"/><rect x="1334" y="754" width="1" height="1" fill="#f8504f"/><rect x="1337" y="754" width="1" height="1" fill="#f8504f"/><rect x="1340" y="754" width="1" height="1" fill="#f8504f"/><rect x="1343" y="754" width="1" height="1" fill="#f8504f"/><rect x="1346" y="754" width="1" height="1" fill="#f8504f"/><rect x="1349" y="754" width="1" height="1" fill="#f8504f"/><rect x="1352" y="754" width="1" height="1" fill="#f8504f"/><rect x="1355" y="754" width="1" height="1" fill="#f8504f"/><rect x="1358" y="754" width="1" height="1" fill="#f8504f"/><rect x="1361" y="754" width="1" height="1" fill="#f8504f"/><rect x="1364" y="754" width="1" height="1" fill="#f8504f"/><rect x="1367" y="754" width="1" height="1" fill="#f8504f"/><rect x="1370" y="754" width="1" height="1" fill="#f8504f"/><rect x="1373" y="754" width="1" height="1" fill="#f8504f"/><rect x="1376" y="754" width="1" height="1" fill="#f8504f"/><rect x="1379" y="754" width="1" height="1" fill="#f8504f"/><rect x="1382" y="754" width="1" height="1" fill="#f8504f"/><rect x="1385" y="754" width="1" height="1" fill="#f8504f"/><rect x="1388" y="754" width="1" height="1" fill="#f8504f"/><rect x="1391" y="754" width="1" height="1" fill="#f8504f"/><rect x="1394" y="754" width="1" height="1" fill="#f8504f"/><rect x="1397" y="754" width="1" height="1" fill="#f8504f"/><rect x="1400" y="754" width="1" height="1" fill="#f8504f"/><rect x="1403" y="754" width="1" height="1" fill="#f8504f"/><rect x="1406" y="754" width="1" height="1" fill="#f8504f"/><rect x="1409" y="754" width="1" height="1" fill="#f8504f"/><rect x="1412" y="754" width="1" height="1" fill="#f8504f"/><rect x="1415" y="754" width="1" height="1" fill="#f8504f"/><rect x="1418" y="754" width="1" height="1" fill="#f8504f"/><rect x="1421" y="754" width="1" height="1" fill="#f8504f"/><rect x="1424" y="754" width="1" height="1" fill="#f8504f"/><rect x="1427" y="754" width="1" height="1" fill="#f8504f"/><rect x="1430" y="754" width="1" height="1" fill="#f8504f"/><rect x="1433" y="754" width="1" height="1" fill="#f8504f"/><rect x="1436" y="754" width="1" height="1" fill="#f8504f"/><rect x="1439" y="754" width="1" height="1" fill="#f8504f"/><rect x="1442" y="754" width="1" height="1" fill="#f8504f"/><rect x="1445" y="754" width="1" height="1" fill="#f8504f"/><rect x="1448" y="754" width="1" height="1" fill="#f8504f"/><rect x="1451" y="754" width="1" height="1" fill="#f8504f"/><rect x="1454" y="754" width="1" height="1" fill="#f8504f"/><rect x="1457" y="754" width="1" height="1" fill="#f8504f"/><rect x="1460" y="754" width="1" height="1" fill="#f8504f"/><rect x="1463" y="754" width="1" height="1" fill="#f8504f"/><rect x="1466" y="754" width="1" height="1" fill="#f8504f"/><rect x="1469" y="754" width="1" height="1" fill="#f8504f"/><rect x="1472" y="754" width="1" height="1" fill="#f8504f"/><rect x="1475" y="754" width="1" height="1" fill="#f8504f"/><rect x="1478" y="754" width="1" height="1" fill="#f8504f"/><rect x="1481" y="754" width="1" height="1" fill="#f8504f"/><rect x="1484" y="754" width="1" height="1" fill="#f8504f"/><rect x="1487" y="754" width="1" height="1" fill="#f8504f"/><rect x="1490" y="754" width="1" height="1" fill="#f8504f"/><rect x="1493" y="754" width="1" height="1" fill="#f8504f"/><rect x="1496" y="754" width="1" height="1" fill="#f8504f"/><rect x="1499" y="754" width="1" height="1" fill="#f8504f"/><rect x="1502" y="754" width="1" height="1" fill="#f8504f"/><rect x="1505" y="754" width="1" height="1" fill="#f8504f"/><rect x="1508" y="754" width="1" height="1" fill="#f8504f"/><rect x="1511" y="754" width="1" height="1" fill="#f8504f"/><rect x="1514" y="754" width="1" height="1" fill="#f8504f"/><rect x="1517" y="754" width="1" height="1" fill="#f8504f"/><rect x="1520" y="754" width="1" height="1" fill="#f8504f"/><rect x="1523" y="754" width="1" height="1" fill="#f8504f"/><rect x="1526" y="754" width="1" height="1" fill="#f8504f"/><rect x="1529" y="754" width="1" height="1" fill="#f8504f"/><rect x="1532" y="754" width="1" height="1" fill="#f8504f"/><rect x="1535" y="754" width="1" height="1" fill="#f8504f"/>
</g>
<circle cx="219.5" cy="879.4" r="9.6" fill="none" stroke="#0000ff" stroke-width="2"/><text x="219.5" y="883.6" text-anchor="middle" font-size="12" fill="#0000ff" font-family="Liberation Sans, sans-serif">D</text><circle cx="449.5" cy="879.4" r="9.6" fill="none" stroke="#0000ff" stroke-width="2"/><text x="449.5" y="883.6" text-anchor="middle" font-size="12" fill="#0000ff" font-family="Liberation Sans, sans-serif">D</text><circle cx="863.5" cy="879.4" r="9.6" fill="none" stroke="#0000ff" stroke-width="2"/><text x="863.5" y="883.6" text-anchor="middle" font-size="12" fill="#0000ff" font-family="Liberation Sans, sans-serif">D</text><circle cx="1002.5" cy="879.4" r="9.6" fill="none" stroke="#0000ff" stroke-width="2"/><text x="1002.5" y="883.6" text-anchor="middle" font-size="12" fill="#0000ff" font-family="Liberation Sans, sans-serif">D</text><circle cx="1274" cy="879.4" r="9.6" fill="none" stroke="#0000ff" stroke-width="2"/><text x="1274" y="883.6" text-anchor="middle" font-size="12" fill="#0000ff" font-family="Liberation Sans, sans-serif">D</text>
</g>
<!-- bottom separator / right strips -->
<g shape-rendering="crispEdges">
<rect x="0" y="920" width="1588" height="1" fill="#333333"/>
<rect x="1588" y="0" width="4" height="930" fill="#121212"/>
<rect x="1592" y="905" width="2" height="25" fill="#2b2b2b"/>
<rect x="1480" y="929" width="1" height="1" fill="#555"/>
</g>
<!-- sidebar toggle -->
<!-- auto button -->
<circle cx="1562.5" cy="906.7" r="9.5" fill="#2a2a2a"/>
<!-- TV logo -->
<circle cx="27.6" cy="863" r="16.5" fill="#191919" stroke="#505050" stroke-width="1.3"/>
<path d="M16.6 858.2 H26 V869.2 H21.6 V862 H16.6 Z" fill="#fff"/>
<circle cx="29" cy="860.2" r="1.8" fill="#fff"/>
<path d="M33.9 858.2 H38.4 L34.2 869.2 H29.2 Z" fill="#fff"/>
<!-- legend toggle -->
<rect x="8.5" y="21.5" width="31" height="20" rx="3.5" fill="none" stroke="#3d3d3d" stroke-width="1"/>
<path d="M15.2 30.2 L18.6 33.4 L22 30.2" fill="none" stroke="#c9ccd3" stroke-width="1.3"/>
</svg>
<div id="legend">
<span style="left:0;letter-spacing:0.06px">Charoen Pokphand Indonesia Tbk</span>
<span style="left:209.3px;top:8px;width:3px;height:3px;background:#cdd0d6"></span>
<span style="left:217.5px">1D</span>
<span style="left:238.3px;top:8px;width:3px;height:3px;background:#cdd0d6"></span>
<span style="left:246px">IDX</span>
<span style="left:277px">O</span><span class="r" style="left:285.7px">3,720</span>
<span style="left:323.8px">H</span><span class="r" style="left:332.5px">3,770</span>
<span style="left:370.6px">L</span><span class="r" style="left:376.5px">3,610</span>
<span style="left:413.9px">C</span><span class="r" style="left:421.5px">3,620</span>
<span class="r" style="left:459.6px;letter-spacing:-0.75px">&minus;50 (&minus;1.36%)</span>
</div>
<div style="position:absolute;left:28.3px;top:26px;font-size:13px;line-height:14px;color:#cdd0d6">4</div>
<div class="pl" style="top:7px">8,750</div>
<div class="pl" style="top:43px">8,500</div>
<div class="pl" style="top:79px">8,250</div>
<div class="pl" style="top:115px">8,000</div>
<div class="pl" style="top:151px">7,750</div>
<div class="pl" style="top:187px">7,500</div>
<div class="pl" style="top:223px">7,250</div>
<div class="pl" style="top:259px">7,000</div>
<div class="pl" style="top:295px">6,750</div>
<div class="pl" style="top:331px">6,500</div>
<div class="pl" style="top:368px">6,250</div>
<div class="pl" style="top:404px">6,000</div>
<div class="pl" style="top:440px">5,750</div>
<div class="pl" style="top:476px">5,500</div>
<div class="pl" style="top:512px">5,250</div>
<div class="pl" style="top:548px">5,000</div>
<div class="pl" style="top:584px">4,750</div>
<div class="pl" style="top:620px">4,500</div>
<div class="pl" style="top:656px">4,250</div>
<div class="pl" style="top:692px">4,000</div>
<div class="pl" style="top:728px">3,750</div>
<div class="pl" style="top:764px">3,500</div>
<div class="pl" style="top:800px">3,250</div>
<div class="pl" style="top:836px">3,000</div>
<div class="pl" style="top:872px">2,750</div>
<div class="tl b" style="left:23.2px">2021</div>
<div class="tl" style="left:118.2px">May</div>
<div class="tl" style="left:209.0px">Sep</div>
<div class="tl b" style="left:307.4px">2022</div>
<div class="tl" style="left:399.5px">May</div>
<div class="tl" style="left:490.2px">Sep</div>
<div class="tl b" style="left:590.1px">2023</div>
<div class="tl" style="left:677.7px">May</div>
<div class="tl" style="left:769.5px">Sep</div>
<div class="tl b" style="left:865.0px">2024</div>
<div class="tl" style="left:950.0px">May</div>
<div class="tl" style="left:1042.7px">Sep</div>
<div class="tl b" style="left:1137.1px">2025</div>
<div class="tl" style="left:1222.2px">May</div>
<div class="tl" style="left:1312.0px">Sep</div>
<div class="tl b" style="left:1408.6px">2026</div>
<div class="tl" style="left:1521.5px;width:14.5px;text-align:left;overflow:hidden">Mar</div>
<div style="position:absolute;left:1552.5px;top:900px;width:20px;text-align:center;font-size:11px;line-height:14px;color:#a9acb3">A</div>
<div class="tag" style="left:1537px;top:515px;width:43px;background:#f23645;padding-left:7px;border-radius:0 2px 2px 0">5,225</div>
<div class="tag" style="left:1537px;top:607px;width:43px;background:#ffeb3b;color:#111;padding-left:7px;border-radius:0 2px 2px 0">4,584</div>
<div class="tag" style="left:1500px;top:729px;width:36px;background:#f04a4e;text-align:center;font-size:12px;letter-spacing:-0.6px;text-indent:-0.6px;border-radius:2px 0 0 2px">CPIN</div>
<div class="tag" style="left:1537px;top:729px;width:43px;background:#f04a4e;padding-left:7px;border-radius:0 2px 2px 0">3,620</div>
<div class="tag" style="left:1537px;top:746px;width:43px;background:#4caf50;padding-left:7px;border-radius:0 2px 2px 0">3,620</div>
<div style="position:absolute;left:1578px;top:356px;width:10px;height:169px;background:#2a2a2a;border-radius:4px 0 0 4px"></div>
<svg width="10" height="12" style="left:1579px;top:435px" viewBox="0 0 10 12"><path d="M2.2 1.5 L6.7 6 L2.2 10.5" fill="none" stroke="#8a8a8a" stroke-width="1.2"/></svg>
</div></body></html>
